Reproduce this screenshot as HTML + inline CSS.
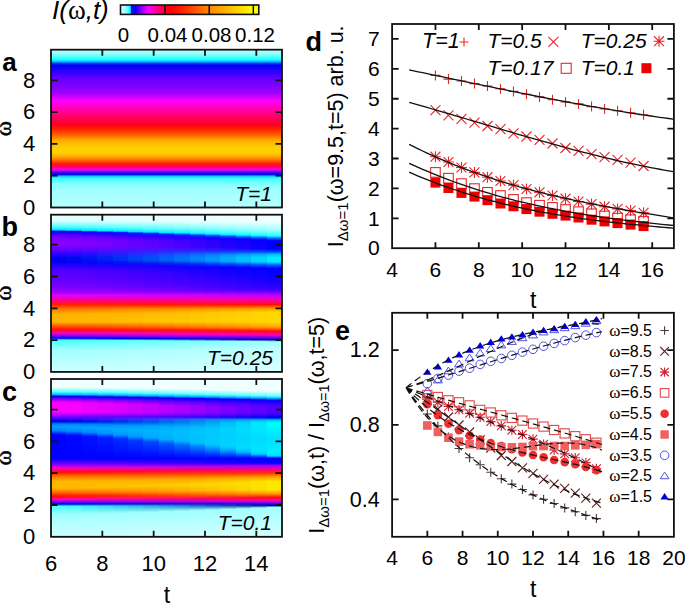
<!DOCTYPE html>
<html><head><meta charset="utf-8"><style>html,body{margin:0;padding:0;background:#fff;width:685px;height:603px;overflow:hidden}svg{display:block}</style></head>
<body><svg width="685" height="603" viewBox="0 0 685 603">
<defs><linearGradient id="g1" gradientUnits="userSpaceOnUse" x1="0" y1="49.00" x2="0" y2="208.20"><stop offset="0.0000" stop-color="#c8ffff"/><stop offset="0.0144" stop-color="#b0ffff"/><stop offset="0.0352" stop-color="#80ffff"/><stop offset="0.0647" stop-color="#20ffff"/><stop offset="0.0773" stop-color="#00d0ff"/><stop offset="0.0898" stop-color="#0040ff"/><stop offset="0.1018" stop-color="#0000f0"/><stop offset="0.1313" stop-color="#2000ff"/><stop offset="0.1815" stop-color="#6000ff"/><stop offset="0.2437" stop-color="#8800ff"/><stop offset="0.2764" stop-color="#a000ff"/><stop offset="0.3266" stop-color="#ff00ff"/><stop offset="0.3957" stop-color="#ff0090"/><stop offset="0.4774" stop-color="#ff0020"/><stop offset="0.5025" stop-color="#ff2000"/><stop offset="0.5402" stop-color="#ff6000"/><stop offset="0.5716" stop-color="#ffa800"/><stop offset="0.6187" stop-color="#ffd000"/><stop offset="0.6501" stop-color="#ffd000"/><stop offset="0.6759" stop-color="#ffa800"/><stop offset="0.6972" stop-color="#ff7000"/><stop offset="0.7180" stop-color="#ff2010"/><stop offset="0.7305" stop-color="#ff1020"/><stop offset="0.7425" stop-color="#ff0080"/><stop offset="0.7550" stop-color="#ff00e0"/><stop offset="0.7676" stop-color="#a000ff"/><stop offset="0.7783" stop-color="#2000f0"/><stop offset="0.7883" stop-color="#0010e0"/><stop offset="0.7990" stop-color="#20c0ff"/><stop offset="0.8134" stop-color="#30ffff"/><stop offset="0.8430" stop-color="#80ffff"/><stop offset="0.8844" stop-color="#a0ffff"/><stop offset="0.9987" stop-color="#b8ffff"/></linearGradient>
<linearGradient id="g2" gradientUnits="userSpaceOnUse" x1="0" y1="214.00" x2="0" y2="372.60"><stop offset="0.0000" stop-color="#e0ffff"/><stop offset="0.0416" stop-color="#e0ffff"/><stop offset="0.0839" stop-color="#40ffff"/><stop offset="0.1009" stop-color="#00e0ff"/><stop offset="0.1084" stop-color="#0000ff"/><stop offset="0.1261" stop-color="#4000ff"/><stop offset="0.1513" stop-color="#8000ff"/><stop offset="0.1892" stop-color="#9000ff"/><stop offset="0.2270" stop-color="#6000ff"/><stop offset="0.2585" stop-color="#2000ff"/><stop offset="0.2774" stop-color="#0000f0"/><stop offset="0.2869" stop-color="#0000f0"/><stop offset="0.3026" stop-color="#0000f0"/><stop offset="0.3216" stop-color="#2000ff"/><stop offset="0.3531" stop-color="#5000ff"/><stop offset="0.4433" stop-color="#7000ff"/><stop offset="0.4937" stop-color="#a000ff"/><stop offset="0.5126" stop-color="#e000ff"/><stop offset="0.5460" stop-color="#ff0080"/><stop offset="0.5712" stop-color="#ff2000"/><stop offset="0.5965" stop-color="#ff7000"/><stop offset="0.6299" stop-color="#ffb000"/><stop offset="0.6797" stop-color="#ffb800"/><stop offset="0.7081" stop-color="#ff5000"/><stop offset="0.7301" stop-color="#ff1010"/><stop offset="0.7503" stop-color="#ff00c0"/><stop offset="0.7680" stop-color="#8000ff"/><stop offset="0.7831" stop-color="#0000f0"/><stop offset="0.7945" stop-color="#40ffff"/><stop offset="0.8556" stop-color="#a0ffff"/><stop offset="0.9994" stop-color="#d0ffff"/></linearGradient>
<linearGradient id="g3" gradientUnits="userSpaceOnUse" x1="0" y1="214.00" x2="0" y2="372.60"><stop offset="0.0000" stop-color="#e1ffff"/><stop offset="0.0419" stop-color="#e1ffff"/><stop offset="0.0844" stop-color="#43ffff"/><stop offset="0.1021" stop-color="#01e1ff"/><stop offset="0.1099" stop-color="#0003ff"/><stop offset="0.1274" stop-color="#3e00ff"/><stop offset="0.1525" stop-color="#7c00ff"/><stop offset="0.1902" stop-color="#8b00ff"/><stop offset="0.2273" stop-color="#5d02ff"/><stop offset="0.2584" stop-color="#1f06ff"/><stop offset="0.2774" stop-color="#0008f0"/><stop offset="0.2874" stop-color="#0008f0"/><stop offset="0.3033" stop-color="#0003f0"/><stop offset="0.3223" stop-color="#1f00ff"/><stop offset="0.3543" stop-color="#4e00ff"/><stop offset="0.4433" stop-color="#6d00ff"/><stop offset="0.4932" stop-color="#9d00ff"/><stop offset="0.5126" stop-color="#df00ff"/><stop offset="0.5460" stop-color="#ff0081"/><stop offset="0.5712" stop-color="#ff1f00"/><stop offset="0.5965" stop-color="#ff7200"/><stop offset="0.6296" stop-color="#ffb100"/><stop offset="0.6797" stop-color="#ffb900"/><stop offset="0.7082" stop-color="#ff5300"/><stop offset="0.7304" stop-color="#ff100f"/><stop offset="0.7507" stop-color="#ff00c0"/><stop offset="0.7684" stop-color="#7f00ff"/><stop offset="0.7834" stop-color="#0000ed"/><stop offset="0.7948" stop-color="#43ffff"/><stop offset="0.8556" stop-color="#a1ffff"/><stop offset="0.9994" stop-color="#d0ffff"/></linearGradient>
<linearGradient id="g4" gradientUnits="userSpaceOnUse" x1="0" y1="214.00" x2="0" y2="372.60"><stop offset="0.0000" stop-color="#e1ffff"/><stop offset="0.0423" stop-color="#e1ffff"/><stop offset="0.0852" stop-color="#48ffff"/><stop offset="0.1038" stop-color="#03e2ff"/><stop offset="0.1121" stop-color="#0008ff"/><stop offset="0.1294" stop-color="#3b00ff"/><stop offset="0.1543" stop-color="#7600ff"/><stop offset="0.1917" stop-color="#8500ff"/><stop offset="0.2277" stop-color="#5805ff"/><stop offset="0.2583" stop-color="#1d0fff"/><stop offset="0.2774" stop-color="#0013f1"/><stop offset="0.2881" stop-color="#0012f1"/><stop offset="0.3042" stop-color="#0008f1"/><stop offset="0.3233" stop-color="#1d00ff"/><stop offset="0.3561" stop-color="#4a00ff"/><stop offset="0.4433" stop-color="#6a00ff"/><stop offset="0.4925" stop-color="#9800ff"/><stop offset="0.5126" stop-color="#dd00ff"/><stop offset="0.5460" stop-color="#ff0083"/><stop offset="0.5712" stop-color="#ff1f00"/><stop offset="0.5965" stop-color="#ff7400"/><stop offset="0.6292" stop-color="#ffb300"/><stop offset="0.6797" stop-color="#ffbb00"/><stop offset="0.7085" stop-color="#ff5600"/><stop offset="0.7308" stop-color="#ff100f"/><stop offset="0.7514" stop-color="#ff00c0"/><stop offset="0.7689" stop-color="#7d00ff"/><stop offset="0.7839" stop-color="#0000ea"/><stop offset="0.7953" stop-color="#48ffff"/><stop offset="0.8556" stop-color="#a3ffff"/><stop offset="0.9994" stop-color="#d1ffff"/></linearGradient>
<linearGradient id="g5" gradientUnits="userSpaceOnUse" x1="0" y1="214.00" x2="0" y2="372.60"><stop offset="0.0000" stop-color="#e2ffff"/><stop offset="0.0428" stop-color="#e2ffff"/><stop offset="0.0862" stop-color="#4dffff"/><stop offset="0.1059" stop-color="#04e4ff"/><stop offset="0.1147" stop-color="#000dff"/><stop offset="0.1316" stop-color="#3700ff"/><stop offset="0.1564" stop-color="#6f00ff"/><stop offset="0.1934" stop-color="#7d00ff"/><stop offset="0.2283" stop-color="#5309ff"/><stop offset="0.2581" stop-color="#1c1aff"/><stop offset="0.2774" stop-color="#0020f2"/><stop offset="0.2890" stop-color="#001ff2"/><stop offset="0.3052" stop-color="#000df2"/><stop offset="0.3245" stop-color="#1c00ff"/><stop offset="0.3582" stop-color="#4600ff"/><stop offset="0.4433" stop-color="#6500ff"/><stop offset="0.4917" stop-color="#9300ff"/><stop offset="0.5126" stop-color="#dc00ff"/><stop offset="0.5460" stop-color="#ff0084"/><stop offset="0.5712" stop-color="#ff1e00"/><stop offset="0.5965" stop-color="#ff7600"/><stop offset="0.6287" stop-color="#ffb500"/><stop offset="0.6797" stop-color="#ffbc00"/><stop offset="0.7088" stop-color="#ff5b00"/><stop offset="0.7312" stop-color="#ff100e"/><stop offset="0.7521" stop-color="#ff00c0"/><stop offset="0.7696" stop-color="#7c00ff"/><stop offset="0.7844" stop-color="#0000e5"/><stop offset="0.7959" stop-color="#4dffff"/><stop offset="0.8556" stop-color="#a4ffff"/><stop offset="0.9994" stop-color="#d1ffff"/></linearGradient>
<linearGradient id="g6" gradientUnits="userSpaceOnUse" x1="0" y1="214.00" x2="0" y2="372.60"><stop offset="0.0000" stop-color="#e3ffff"/><stop offset="0.0433" stop-color="#e3ffff"/><stop offset="0.0872" stop-color="#53ffff"/><stop offset="0.1082" stop-color="#06e6ff"/><stop offset="0.1175" stop-color="#0013ff"/><stop offset="0.1341" stop-color="#3300ff"/><stop offset="0.1587" stop-color="#6700ff"/><stop offset="0.1953" stop-color="#7400ff"/><stop offset="0.2288" stop-color="#4d0dff"/><stop offset="0.2579" stop-color="#1a26ff"/><stop offset="0.2774" stop-color="#002ff3"/><stop offset="0.2900" stop-color="#002ef3"/><stop offset="0.3064" stop-color="#0013f3"/><stop offset="0.3258" stop-color="#1a00ff"/><stop offset="0.3605" stop-color="#4200ff"/><stop offset="0.4433" stop-color="#6000ff"/><stop offset="0.4908" stop-color="#8d00ff"/><stop offset="0.5126" stop-color="#da00ff"/><stop offset="0.5460" stop-color="#ff0086"/><stop offset="0.5712" stop-color="#ff1d00"/><stop offset="0.5965" stop-color="#ff7900"/><stop offset="0.6282" stop-color="#ffb800"/><stop offset="0.6797" stop-color="#ffbe00"/><stop offset="0.7091" stop-color="#ff6000"/><stop offset="0.7317" stop-color="#ff100d"/><stop offset="0.7529" stop-color="#ff00c0"/><stop offset="0.7703" stop-color="#7a00ff"/><stop offset="0.7850" stop-color="#0000e0"/><stop offset="0.7966" stop-color="#53ffff"/><stop offset="0.8556" stop-color="#a6ffff"/><stop offset="0.9994" stop-color="#d2ffff"/></linearGradient>
<linearGradient id="g7" gradientUnits="userSpaceOnUse" x1="0" y1="214.00" x2="0" y2="372.60"><stop offset="0.0000" stop-color="#e4ffff"/><stop offset="0.0439" stop-color="#e4ffff"/><stop offset="0.0883" stop-color="#59ffff"/><stop offset="0.1106" stop-color="#08e8ff"/><stop offset="0.1205" stop-color="#0019ff"/><stop offset="0.1369" stop-color="#2f00ff"/><stop offset="0.1612" stop-color="#5e00ff"/><stop offset="0.1974" stop-color="#6a00ff"/><stop offset="0.2295" stop-color="#4711ff"/><stop offset="0.2577" stop-color="#1832ff"/><stop offset="0.2774" stop-color="#003ff4"/><stop offset="0.2910" stop-color="#003df4"/><stop offset="0.3076" stop-color="#0019f4"/><stop offset="0.3272" stop-color="#1800ff"/><stop offset="0.3630" stop-color="#3d00ff"/><stop offset="0.4433" stop-color="#5b00ff"/><stop offset="0.4899" stop-color="#8700ff"/><stop offset="0.5126" stop-color="#d800ff"/><stop offset="0.5460" stop-color="#ff0088"/><stop offset="0.5712" stop-color="#ff1c00"/><stop offset="0.5965" stop-color="#ff7d00"/><stop offset="0.6276" stop-color="#ffba00"/><stop offset="0.6797" stop-color="#ffc000"/><stop offset="0.7094" stop-color="#ff6500"/><stop offset="0.7323" stop-color="#ff100c"/><stop offset="0.7538" stop-color="#ff00c0"/><stop offset="0.7711" stop-color="#7800ff"/><stop offset="0.7856" stop-color="#0000db"/><stop offset="0.7973" stop-color="#59ffff"/><stop offset="0.8556" stop-color="#a8ffff"/><stop offset="0.9994" stop-color="#d2ffff"/></linearGradient>
<linearGradient id="g8" gradientUnits="userSpaceOnUse" x1="0" y1="214.00" x2="0" y2="372.60"><stop offset="0.0000" stop-color="#e5ffff"/><stop offset="0.0445" stop-color="#e5ffff"/><stop offset="0.0895" stop-color="#60ffff"/><stop offset="0.1132" stop-color="#0beaff"/><stop offset="0.1237" stop-color="#0020ff"/><stop offset="0.1397" stop-color="#2b00ff"/><stop offset="0.1639" stop-color="#5500ff"/><stop offset="0.1996" stop-color="#6000ff"/><stop offset="0.2301" stop-color="#4015ff"/><stop offset="0.2575" stop-color="#1540ff"/><stop offset="0.2774" stop-color="#0050f5"/><stop offset="0.2921" stop-color="#004df5"/><stop offset="0.3089" stop-color="#0020f5"/><stop offset="0.3287" stop-color="#1500ff"/><stop offset="0.3657" stop-color="#3800ff"/><stop offset="0.4433" stop-color="#5500ff"/><stop offset="0.4889" stop-color="#8000ff"/><stop offset="0.5126" stop-color="#d500ff"/><stop offset="0.5460" stop-color="#ff008b"/><stop offset="0.5712" stop-color="#ff1b00"/><stop offset="0.5965" stop-color="#ff8000"/><stop offset="0.6270" stop-color="#ffbd00"/><stop offset="0.6797" stop-color="#ffc300"/><stop offset="0.7097" stop-color="#ff6b00"/><stop offset="0.7329" stop-color="#ff100b"/><stop offset="0.7547" stop-color="#ff00c0"/><stop offset="0.7720" stop-color="#7500ff"/><stop offset="0.7862" stop-color="#0000d5"/><stop offset="0.7980" stop-color="#60ffff"/><stop offset="0.8556" stop-color="#abffff"/><stop offset="0.9994" stop-color="#d3ffff"/></linearGradient>
<linearGradient id="g9" gradientUnits="userSpaceOnUse" x1="0" y1="214.00" x2="0" y2="372.60"><stop offset="0.0000" stop-color="#e6ffff"/><stop offset="0.0452" stop-color="#e6ffff"/><stop offset="0.0908" stop-color="#67ffff"/><stop offset="0.1160" stop-color="#0dedff"/><stop offset="0.1271" stop-color="#0027ff"/><stop offset="0.1427" stop-color="#2600ff"/><stop offset="0.1667" stop-color="#4c00ff"/><stop offset="0.2020" stop-color="#5600ff"/><stop offset="0.2308" stop-color="#391aff"/><stop offset="0.2572" stop-color="#134eff"/><stop offset="0.2774" stop-color="#0061f6"/><stop offset="0.2933" stop-color="#005ef6"/><stop offset="0.3103" stop-color="#0027f6"/><stop offset="0.3303" stop-color="#1300ff"/><stop offset="0.3685" stop-color="#3300ff"/><stop offset="0.4433" stop-color="#5000ff"/><stop offset="0.4878" stop-color="#7900ff"/><stop offset="0.5126" stop-color="#d300ff"/><stop offset="0.5460" stop-color="#ff008d"/><stop offset="0.5712" stop-color="#ff1a00"/><stop offset="0.5965" stop-color="#ff8300"/><stop offset="0.6263" stop-color="#ffc000"/><stop offset="0.6797" stop-color="#ffc500"/><stop offset="0.7101" stop-color="#ff7000"/><stop offset="0.7335" stop-color="#ff100a"/><stop offset="0.7557" stop-color="#ff00c0"/><stop offset="0.7728" stop-color="#7300ff"/><stop offset="0.7869" stop-color="#0000d0"/><stop offset="0.7988" stop-color="#67ffff"/><stop offset="0.8556" stop-color="#adffff"/><stop offset="0.9994" stop-color="#d3ffff"/></linearGradient>
<linearGradient id="g10" gradientUnits="userSpaceOnUse" x1="0" y1="214.00" x2="0" y2="372.60"><stop offset="0.0000" stop-color="#e8ffff"/><stop offset="0.0459" stop-color="#e8ffff"/><stop offset="0.0921" stop-color="#6effff"/><stop offset="0.1189" stop-color="#0fefff"/><stop offset="0.1307" stop-color="#002eff"/><stop offset="0.1459" stop-color="#2100ff"/><stop offset="0.1696" stop-color="#4200ff"/><stop offset="0.2044" stop-color="#4a00ff"/><stop offset="0.2316" stop-color="#321fff"/><stop offset="0.2570" stop-color="#115dff"/><stop offset="0.2774" stop-color="#0074f7"/><stop offset="0.2945" stop-color="#0070f7"/><stop offset="0.3118" stop-color="#002ef7"/><stop offset="0.3319" stop-color="#1100ff"/><stop offset="0.3714" stop-color="#2d00ff"/><stop offset="0.4433" stop-color="#4900ff"/><stop offset="0.4867" stop-color="#7200ff"/><stop offset="0.5126" stop-color="#d100ff"/><stop offset="0.5460" stop-color="#ff008f"/><stop offset="0.5712" stop-color="#ff1800"/><stop offset="0.5965" stop-color="#ff8700"/><stop offset="0.6256" stop-color="#ffc300"/><stop offset="0.6797" stop-color="#ffc700"/><stop offset="0.7105" stop-color="#ff7700"/><stop offset="0.7341" stop-color="#ff1008"/><stop offset="0.7567" stop-color="#ff00c0"/><stop offset="0.7738" stop-color="#7100ff"/><stop offset="0.7877" stop-color="#0000c9"/><stop offset="0.7996" stop-color="#6effff"/><stop offset="0.8556" stop-color="#afffff"/><stop offset="0.9994" stop-color="#d4ffff"/></linearGradient>
<linearGradient id="g11" gradientUnits="userSpaceOnUse" x1="0" y1="214.00" x2="0" y2="372.60"><stop offset="0.0000" stop-color="#e9ffff"/><stop offset="0.0466" stop-color="#e9ffff"/><stop offset="0.0934" stop-color="#76ffff"/><stop offset="0.1218" stop-color="#12f1ff"/><stop offset="0.1344" stop-color="#0036ff"/><stop offset="0.1492" stop-color="#1c00ff"/><stop offset="0.1726" stop-color="#3800ff"/><stop offset="0.2069" stop-color="#3f00ff"/><stop offset="0.2323" stop-color="#2a24ff"/><stop offset="0.2567" stop-color="#0e6cff"/><stop offset="0.2774" stop-color="#0087f8"/><stop offset="0.2958" stop-color="#0083f8"/><stop offset="0.3133" stop-color="#0036f8"/><stop offset="0.3336" stop-color="#0e00ff"/><stop offset="0.3744" stop-color="#2700ff"/><stop offset="0.4433" stop-color="#4300ff"/><stop offset="0.4855" stop-color="#6a00ff"/><stop offset="0.5126" stop-color="#ce00ff"/><stop offset="0.5460" stop-color="#ff0092"/><stop offset="0.5712" stop-color="#ff1700"/><stop offset="0.5965" stop-color="#ff8b00"/><stop offset="0.6249" stop-color="#ffc700"/><stop offset="0.6797" stop-color="#ffca00"/><stop offset="0.7109" stop-color="#ff7d00"/><stop offset="0.7348" stop-color="#ff1007"/><stop offset="0.7578" stop-color="#ff00c0"/><stop offset="0.7747" stop-color="#6e00ff"/><stop offset="0.7884" stop-color="#0000c3"/><stop offset="0.8005" stop-color="#76ffff"/><stop offset="0.8556" stop-color="#b2ffff"/><stop offset="0.9994" stop-color="#d5ffff"/></linearGradient>
<linearGradient id="g12" gradientUnits="userSpaceOnUse" x1="0" y1="214.00" x2="0" y2="372.60"><stop offset="0.0000" stop-color="#eaffff"/><stop offset="0.0473" stop-color="#eaffff"/><stop offset="0.0949" stop-color="#7effff"/><stop offset="0.1249" stop-color="#15f4ff"/><stop offset="0.1382" stop-color="#003eff"/><stop offset="0.1526" stop-color="#1700ff"/><stop offset="0.1758" stop-color="#2d00ff"/><stop offset="0.2095" stop-color="#3300ff"/><stop offset="0.2331" stop-color="#2229ff"/><stop offset="0.2565" stop-color="#0b7cff"/><stop offset="0.2774" stop-color="#009bfa"/><stop offset="0.2971" stop-color="#0096fa"/><stop offset="0.3149" stop-color="#003efa"/><stop offset="0.3354" stop-color="#0b00ff"/><stop offset="0.3775" stop-color="#2200ff"/><stop offset="0.4433" stop-color="#3c00ff"/><stop offset="0.4843" stop-color="#6200ff"/><stop offset="0.5126" stop-color="#cb00ff"/><stop offset="0.5460" stop-color="#ff0095"/><stop offset="0.5712" stop-color="#ff1600"/><stop offset="0.5965" stop-color="#ff8f00"/><stop offset="0.6242" stop-color="#ffca00"/><stop offset="0.6797" stop-color="#ffcd00"/><stop offset="0.7113" stop-color="#ff8400"/><stop offset="0.7354" stop-color="#ff1006"/><stop offset="0.7589" stop-color="#ff00c0"/><stop offset="0.7757" stop-color="#6b00ff"/><stop offset="0.7892" stop-color="#0000bc"/><stop offset="0.8014" stop-color="#7effff"/><stop offset="0.8556" stop-color="#b5ffff"/><stop offset="0.9994" stop-color="#d5ffff"/></linearGradient>
<linearGradient id="g13" gradientUnits="userSpaceOnUse" x1="0" y1="214.00" x2="0" y2="372.60"><stop offset="0.0000" stop-color="#ecffff"/><stop offset="0.0481" stop-color="#ecffff"/><stop offset="0.0963" stop-color="#86ffff"/><stop offset="0.1281" stop-color="#17f7ff"/><stop offset="0.1421" stop-color="#0046ff"/><stop offset="0.1561" stop-color="#1100ff"/><stop offset="0.1790" stop-color="#2200ff"/><stop offset="0.2122" stop-color="#2700ff"/><stop offset="0.2339" stop-color="#1a2fff"/><stop offset="0.2562" stop-color="#098cff"/><stop offset="0.2774" stop-color="#00affb"/><stop offset="0.2984" stop-color="#00aafb"/><stop offset="0.3165" stop-color="#0046fb"/><stop offset="0.3372" stop-color="#0900ff"/><stop offset="0.3807" stop-color="#1b00ff"/><stop offset="0.4433" stop-color="#3600ff"/><stop offset="0.4831" stop-color="#5a00ff"/><stop offset="0.5126" stop-color="#c900ff"/><stop offset="0.5460" stop-color="#ff0097"/><stop offset="0.5712" stop-color="#ff1400"/><stop offset="0.5965" stop-color="#ff9300"/><stop offset="0.6234" stop-color="#ffcd00"/><stop offset="0.6797" stop-color="#ffcf00"/><stop offset="0.7118" stop-color="#ff8a00"/><stop offset="0.7361" stop-color="#ff1004"/><stop offset="0.7600" stop-color="#ff00c0"/><stop offset="0.7767" stop-color="#6900ff"/><stop offset="0.7900" stop-color="#0000b6"/><stop offset="0.8023" stop-color="#86ffff"/><stop offset="0.8556" stop-color="#b7ffff"/><stop offset="0.9994" stop-color="#d6ffff"/></linearGradient>
<linearGradient id="g14" gradientUnits="userSpaceOnUse" x1="0" y1="214.00" x2="0" y2="372.60"><stop offset="0.0000" stop-color="#edffff"/><stop offset="0.0488" stop-color="#edffff"/><stop offset="0.0978" stop-color="#8fffff"/><stop offset="0.1313" stop-color="#1af9ff"/><stop offset="0.1461" stop-color="#004fff"/><stop offset="0.1596" stop-color="#0c00ff"/><stop offset="0.1823" stop-color="#1700ff"/><stop offset="0.2150" stop-color="#1a00ff"/><stop offset="0.2347" stop-color="#1134ff"/><stop offset="0.2559" stop-color="#069dff"/><stop offset="0.2774" stop-color="#00c4fc"/><stop offset="0.2998" stop-color="#00befc"/><stop offset="0.3181" stop-color="#004ffc"/><stop offset="0.3391" stop-color="#0600ff"/><stop offset="0.3841" stop-color="#1500ff"/><stop offset="0.4433" stop-color="#2f00ff"/><stop offset="0.4818" stop-color="#5100ff"/><stop offset="0.5126" stop-color="#c600ff"/><stop offset="0.5460" stop-color="#ff009a"/><stop offset="0.5712" stop-color="#ff1300"/><stop offset="0.5965" stop-color="#ff9700"/><stop offset="0.6227" stop-color="#ffd100"/><stop offset="0.6797" stop-color="#ffd200"/><stop offset="0.7122" stop-color="#ff9100"/><stop offset="0.7368" stop-color="#ff1003"/><stop offset="0.7612" stop-color="#ff00c0"/><stop offset="0.7778" stop-color="#6600ff"/><stop offset="0.7908" stop-color="#0000af"/><stop offset="0.8032" stop-color="#8fffff"/><stop offset="0.8556" stop-color="#baffff"/><stop offset="0.9994" stop-color="#d7ffff"/></linearGradient>
<linearGradient id="g15" gradientUnits="userSpaceOnUse" x1="0" y1="214.00" x2="0" y2="372.60"><stop offset="0.0000" stop-color="#efffff"/><stop offset="0.0496" stop-color="#efffff"/><stop offset="0.0993" stop-color="#97ffff"/><stop offset="0.1347" stop-color="#1dfcff"/><stop offset="0.1502" stop-color="#0057ff"/><stop offset="0.1633" stop-color="#0600ff"/><stop offset="0.1857" stop-color="#0c00ff"/><stop offset="0.2178" stop-color="#0d00ff"/><stop offset="0.2356" stop-color="#093aff"/><stop offset="0.2556" stop-color="#03aeff"/><stop offset="0.2774" stop-color="#00dafe"/><stop offset="0.3012" stop-color="#00d3fe"/><stop offset="0.3198" stop-color="#0057fe"/><stop offset="0.3410" stop-color="#0300ff"/><stop offset="0.3874" stop-color="#0f00ff"/><stop offset="0.4433" stop-color="#2700ff"/><stop offset="0.4805" stop-color="#4900ff"/><stop offset="0.5126" stop-color="#c300ff"/><stop offset="0.5460" stop-color="#ff009d"/><stop offset="0.5712" stop-color="#ff1100"/><stop offset="0.5965" stop-color="#ff9c00"/><stop offset="0.6219" stop-color="#ffd400"/><stop offset="0.6797" stop-color="#ffd500"/><stop offset="0.7127" stop-color="#ff9900"/><stop offset="0.7376" stop-color="#ff1001"/><stop offset="0.7623" stop-color="#ff00c0"/><stop offset="0.7788" stop-color="#6300ff"/><stop offset="0.7917" stop-color="#0000a7"/><stop offset="0.8042" stop-color="#97ffff"/><stop offset="0.8556" stop-color="#bdffff"/><stop offset="0.9994" stop-color="#d7ffff"/></linearGradient>
<linearGradient id="g16" gradientUnits="userSpaceOnUse" x1="0" y1="214.00" x2="0" y2="372.60"><stop offset="0.0000" stop-color="#f0ffff"/><stop offset="0.0504" stop-color="#f0ffff"/><stop offset="0.1009" stop-color="#a0ffff"/><stop offset="0.1381" stop-color="#20ffff"/><stop offset="0.1545" stop-color="#0060ff"/><stop offset="0.1671" stop-color="#0000ff"/><stop offset="0.1892" stop-color="#0000ff"/><stop offset="0.2207" stop-color="#0000ff"/><stop offset="0.2364" stop-color="#0040ff"/><stop offset="0.2554" stop-color="#00c0ff"/><stop offset="0.2774" stop-color="#00f0ff"/><stop offset="0.3026" stop-color="#00e8ff"/><stop offset="0.3216" stop-color="#0060ff"/><stop offset="0.3430" stop-color="#0000ff"/><stop offset="0.3909" stop-color="#0800ff"/><stop offset="0.4433" stop-color="#2000ff"/><stop offset="0.4792" stop-color="#4000ff"/><stop offset="0.5126" stop-color="#c000ff"/><stop offset="0.5460" stop-color="#ff00a0"/><stop offset="0.5712" stop-color="#ff1000"/><stop offset="0.5965" stop-color="#ffa000"/><stop offset="0.6211" stop-color="#ffd800"/><stop offset="0.6797" stop-color="#ffd800"/><stop offset="0.7131" stop-color="#ffa000"/><stop offset="0.7383" stop-color="#ff1000"/><stop offset="0.7636" stop-color="#ff00c0"/><stop offset="0.7799" stop-color="#6000ff"/><stop offset="0.7926" stop-color="#0000a0"/><stop offset="0.8052" stop-color="#a0ffff"/><stop offset="0.8556" stop-color="#c0ffff"/><stop offset="0.9994" stop-color="#d8ffff"/></linearGradient>
<linearGradient id="g17" gradientUnits="userSpaceOnUse" x1="0" y1="378.30" x2="0" y2="537.50"><stop offset="0.0000" stop-color="#f0ffff"/><stop offset="0.0546" stop-color="#f0ffff"/><stop offset="0.0829" stop-color="#60ffff"/><stop offset="0.1018" stop-color="#00c0ff"/><stop offset="0.1131" stop-color="#0000f0"/><stop offset="0.1300" stop-color="#8000ff"/><stop offset="0.1520" stop-color="#ff00ff"/><stop offset="0.2085" stop-color="#ff00ff"/><stop offset="0.2274" stop-color="#c000ff"/><stop offset="0.2399" stop-color="#8000ff"/><stop offset="0.2525" stop-color="#4000ff"/><stop offset="0.2707" stop-color="#0000e0"/><stop offset="0.2877" stop-color="#0080ff"/><stop offset="0.3040" stop-color="#00a0ff"/><stop offset="0.3291" stop-color="#0080ff"/><stop offset="0.3543" stop-color="#0000ff"/><stop offset="0.5044" stop-color="#0000ff"/><stop offset="0.5151" stop-color="#2000ff"/><stop offset="0.5402" stop-color="#8000ff"/><stop offset="0.5653" stop-color="#ff00c0"/><stop offset="0.5898" stop-color="#ff1000"/><stop offset="0.6149" stop-color="#ff7000"/><stop offset="0.6482" stop-color="#ffb800"/><stop offset="0.6903" stop-color="#ffb800"/><stop offset="0.7148" stop-color="#ff7000"/><stop offset="0.7399" stop-color="#ff1000"/><stop offset="0.7607" stop-color="#ff00c0"/><stop offset="0.7776" stop-color="#6000ff"/><stop offset="0.7902" stop-color="#0000e0"/><stop offset="0.8028" stop-color="#40ffff"/><stop offset="0.8568" stop-color="#a0ffff"/><stop offset="1.0000" stop-color="#d0ffff"/></linearGradient>
<linearGradient id="g18" gradientUnits="userSpaceOnUse" x1="0" y1="378.30" x2="0" y2="537.50"><stop offset="0.0000" stop-color="#f0ffff"/><stop offset="0.0555" stop-color="#f0ffff"/><stop offset="0.0839" stop-color="#60ffff"/><stop offset="0.1026" stop-color="#00bfff"/><stop offset="0.1139" stop-color="#0000f0"/><stop offset="0.1313" stop-color="#7e00ff"/><stop offset="0.1534" stop-color="#f900ff"/><stop offset="0.2089" stop-color="#f900ff"/><stop offset="0.2276" stop-color="#bb00ff"/><stop offset="0.2402" stop-color="#7c00ff"/><stop offset="0.2528" stop-color="#3e06ff"/><stop offset="0.2710" stop-color="#0008e1"/><stop offset="0.2890" stop-color="#0084ff"/><stop offset="0.3067" stop-color="#00a2ff"/><stop offset="0.3335" stop-color="#0084ff"/><stop offset="0.3586" stop-color="#0007ff"/><stop offset="0.5043" stop-color="#0000ff"/><stop offset="0.5149" stop-color="#1f00ff"/><stop offset="0.5399" stop-color="#7c00ff"/><stop offset="0.5648" stop-color="#fc00c2"/><stop offset="0.5893" stop-color="#ff0f04"/><stop offset="0.6143" stop-color="#ff6e00"/><stop offset="0.6473" stop-color="#ffb700"/><stop offset="0.6890" stop-color="#ffba00"/><stop offset="0.7143" stop-color="#ff7400"/><stop offset="0.7394" stop-color="#ff1500"/><stop offset="0.7603" stop-color="#ff01ba"/><stop offset="0.7774" stop-color="#6500fd"/><stop offset="0.7901" stop-color="#0200e1"/><stop offset="0.8026" stop-color="#3ef7fb"/><stop offset="0.8553" stop-color="#a0ffff"/><stop offset="1.0000" stop-color="#d0ffff"/></linearGradient>
<linearGradient id="g19" gradientUnits="userSpaceOnUse" x1="0" y1="378.30" x2="0" y2="537.50"><stop offset="0.0000" stop-color="#f0ffff"/><stop offset="0.0567" stop-color="#f0ffff"/><stop offset="0.0853" stop-color="#60ffff"/><stop offset="0.1038" stop-color="#00bdff"/><stop offset="0.1150" stop-color="#0000f1"/><stop offset="0.1333" stop-color="#7c00ff"/><stop offset="0.1555" stop-color="#f100ff"/><stop offset="0.2095" stop-color="#f000ff"/><stop offset="0.2279" stop-color="#b300ff"/><stop offset="0.2405" stop-color="#7600fe"/><stop offset="0.2533" stop-color="#3b0fff"/><stop offset="0.2714" stop-color="#0014e2"/><stop offset="0.2910" stop-color="#0089ff"/><stop offset="0.3107" stop-color="#00a5ff"/><stop offset="0.3398" stop-color="#0089ff"/><stop offset="0.3649" stop-color="#0012ff"/><stop offset="0.5041" stop-color="#0000ff"/><stop offset="0.5147" stop-color="#1d00ff"/><stop offset="0.5396" stop-color="#7600ff"/><stop offset="0.5640" stop-color="#f700c5"/><stop offset="0.5885" stop-color="#ff0f0a"/><stop offset="0.6133" stop-color="#ff6b00"/><stop offset="0.6459" stop-color="#ffb600"/><stop offset="0.6870" stop-color="#ffbc00"/><stop offset="0.7135" stop-color="#ff7a00"/><stop offset="0.7386" stop-color="#ff1b00"/><stop offset="0.7597" stop-color="#ff01b1"/><stop offset="0.7770" stop-color="#6d00fa"/><stop offset="0.7899" stop-color="#0500e2"/><stop offset="0.8024" stop-color="#3bebf5"/><stop offset="0.8531" stop-color="#a0ffff"/><stop offset="1.0000" stop-color="#d1ffff"/></linearGradient>
<linearGradient id="g20" gradientUnits="userSpaceOnUse" x1="0" y1="378.30" x2="0" y2="537.50"><stop offset="0.0000" stop-color="#f0ffff"/><stop offset="0.0580" stop-color="#f0ffff"/><stop offset="0.0869" stop-color="#60ffff"/><stop offset="0.1052" stop-color="#00bcff"/><stop offset="0.1164" stop-color="#0000f2"/><stop offset="0.1355" stop-color="#7a00ff"/><stop offset="0.1579" stop-color="#e700ff"/><stop offset="0.2102" stop-color="#e600ff"/><stop offset="0.2282" stop-color="#aa00ff"/><stop offset="0.2408" stop-color="#6f00fd"/><stop offset="0.2539" stop-color="#371aff"/><stop offset="0.2719" stop-color="#0022e4"/><stop offset="0.2933" stop-color="#008fff"/><stop offset="0.3153" stop-color="#00a9ff"/><stop offset="0.3472" stop-color="#008fff"/><stop offset="0.3723" stop-color="#001eff"/><stop offset="0.5039" stop-color="#0000ff"/><stop offset="0.5144" stop-color="#1c00ff"/><stop offset="0.5391" stop-color="#6f00ff"/><stop offset="0.5630" stop-color="#f200c9"/><stop offset="0.5876" stop-color="#ff0e11"/><stop offset="0.6122" stop-color="#ff6700"/><stop offset="0.6443" stop-color="#ffb500"/><stop offset="0.6846" stop-color="#ffbe00"/><stop offset="0.7126" stop-color="#ff8000"/><stop offset="0.7377" stop-color="#ff2300"/><stop offset="0.7590" stop-color="#ff02a6"/><stop offset="0.7765" stop-color="#7500f6"/><stop offset="0.7896" stop-color="#0900e4"/><stop offset="0.8022" stop-color="#37ddee"/><stop offset="0.8506" stop-color="#a0ffff"/><stop offset="1.0000" stop-color="#d1ffff"/></linearGradient>
<linearGradient id="g21" gradientUnits="userSpaceOnUse" x1="0" y1="378.30" x2="0" y2="537.50"><stop offset="0.0000" stop-color="#f0ffff"/><stop offset="0.0596" stop-color="#f0ffff"/><stop offset="0.0887" stop-color="#60ffff"/><stop offset="0.1067" stop-color="#00baff"/><stop offset="0.1179" stop-color="#0000f3"/><stop offset="0.1380" stop-color="#7700ff"/><stop offset="0.1606" stop-color="#dd00ff"/><stop offset="0.2110" stop-color="#db00ff"/><stop offset="0.2286" stop-color="#a100ff"/><stop offset="0.2412" stop-color="#6700fc"/><stop offset="0.2545" stop-color="#3326ff"/><stop offset="0.2725" stop-color="#0032e6"/><stop offset="0.2958" stop-color="#0096ff"/><stop offset="0.3204" stop-color="#00adff"/><stop offset="0.3554" stop-color="#0096ff"/><stop offset="0.3805" stop-color="#002cff"/><stop offset="0.5037" stop-color="#0000ff"/><stop offset="0.5141" stop-color="#1a00ff"/><stop offset="0.5386" stop-color="#6700ff"/><stop offset="0.5620" stop-color="#ec00cc"/><stop offset="0.5866" stop-color="#ff0d19"/><stop offset="0.6109" stop-color="#ff6300"/><stop offset="0.6426" stop-color="#ffb300"/><stop offset="0.6821" stop-color="#ffc100"/><stop offset="0.7116" stop-color="#ff8800"/><stop offset="0.7367" stop-color="#ff2c00"/><stop offset="0.7582" stop-color="#ff039a"/><stop offset="0.7760" stop-color="#7f00f3"/><stop offset="0.7893" stop-color="#0d00e6"/><stop offset="0.8019" stop-color="#33cde6"/><stop offset="0.8478" stop-color="#a0ffff"/><stop offset="1.0000" stop-color="#d2ffff"/></linearGradient>
<linearGradient id="g22" gradientUnits="userSpaceOnUse" x1="0" y1="378.30" x2="0" y2="537.50"><stop offset="0.0000" stop-color="#f0ffff"/><stop offset="0.0612" stop-color="#f0ffff"/><stop offset="0.0907" stop-color="#60ffff"/><stop offset="0.1083" stop-color="#00b8ff"/><stop offset="0.1195" stop-color="#0000f4"/><stop offset="0.1407" stop-color="#7300ff"/><stop offset="0.1635" stop-color="#d100ff"/><stop offset="0.2118" stop-color="#cf00ff"/><stop offset="0.2290" stop-color="#9600ff"/><stop offset="0.2416" stop-color="#5e00fb"/><stop offset="0.2551" stop-color="#2f32ff"/><stop offset="0.2730" stop-color="#0043e8"/><stop offset="0.2986" stop-color="#009dff"/><stop offset="0.3259" stop-color="#00b1ff"/><stop offset="0.3642" stop-color="#009dff"/><stop offset="0.3894" stop-color="#003bff"/><stop offset="0.5034" stop-color="#0000ff"/><stop offset="0.5138" stop-color="#1800ff"/><stop offset="0.5381" stop-color="#5e00ff"/><stop offset="0.5609" stop-color="#e600d1"/><stop offset="0.5855" stop-color="#ff0c22"/><stop offset="0.6095" stop-color="#ff5f00"/><stop offset="0.6407" stop-color="#ffb200"/><stop offset="0.6793" stop-color="#ffc500"/><stop offset="0.7105" stop-color="#ff8f00"/><stop offset="0.7357" stop-color="#ff3600"/><stop offset="0.7574" stop-color="#ff048e"/><stop offset="0.7755" stop-color="#8a00ee"/><stop offset="0.7890" stop-color="#1100e8"/><stop offset="0.8016" stop-color="#2fbcde"/><stop offset="0.8448" stop-color="#a0ffff"/><stop offset="1.0000" stop-color="#d2ffff"/></linearGradient>
<linearGradient id="g23" gradientUnits="userSpaceOnUse" x1="0" y1="378.30" x2="0" y2="537.50"><stop offset="0.0000" stop-color="#f0ffff"/><stop offset="0.0630" stop-color="#f0ffff"/><stop offset="0.0927" stop-color="#60ffff"/><stop offset="0.1101" stop-color="#00b5ff"/><stop offset="0.1212" stop-color="#0000f5"/><stop offset="0.1436" stop-color="#7000ff"/><stop offset="0.1666" stop-color="#c500ff"/><stop offset="0.2127" stop-color="#c200ff"/><stop offset="0.2295" stop-color="#8b00ff"/><stop offset="0.2420" stop-color="#5500fa"/><stop offset="0.2559" stop-color="#2b40ff"/><stop offset="0.2737" stop-color="#0055ea"/><stop offset="0.3015" stop-color="#00a5ff"/><stop offset="0.3318" stop-color="#00b5ff"/><stop offset="0.3736" stop-color="#00a5ff"/><stop offset="0.3987" stop-color="#004aff"/><stop offset="0.5031" stop-color="#0000ff"/><stop offset="0.5134" stop-color="#1500ff"/><stop offset="0.5375" stop-color="#5500ff"/><stop offset="0.5597" stop-color="#df00d5"/><stop offset="0.5844" stop-color="#ff0b2b"/><stop offset="0.6081" stop-color="#ff5b00"/><stop offset="0.6386" stop-color="#ffb000"/><stop offset="0.6763" stop-color="#ffc800"/><stop offset="0.7094" stop-color="#ff9800"/><stop offset="0.7345" stop-color="#ff4000"/><stop offset="0.7565" stop-color="#ff0580"/><stop offset="0.7749" stop-color="#9500ea"/><stop offset="0.7887" stop-color="#1500ea"/><stop offset="0.8013" stop-color="#2baad5"/><stop offset="0.8415" stop-color="#a0ffff"/><stop offset="1.0000" stop-color="#d3ffff"/></linearGradient>
<linearGradient id="g24" gradientUnits="userSpaceOnUse" x1="0" y1="378.30" x2="0" y2="537.50"><stop offset="0.0000" stop-color="#f0ffff"/><stop offset="0.0649" stop-color="#f0ffff"/><stop offset="0.0949" stop-color="#60ffff"/><stop offset="0.1120" stop-color="#00b3ff"/><stop offset="0.1230" stop-color="#0000f6"/><stop offset="0.1466" stop-color="#6d00ff"/><stop offset="0.1699" stop-color="#b800ff"/><stop offset="0.2136" stop-color="#b500ff"/><stop offset="0.2299" stop-color="#7f00ff"/><stop offset="0.2425" stop-color="#4c00f9"/><stop offset="0.2566" stop-color="#264eff"/><stop offset="0.2743" stop-color="#0068ed"/><stop offset="0.3045" stop-color="#00adff"/><stop offset="0.3379" stop-color="#00baff"/><stop offset="0.3835" stop-color="#00adff"/><stop offset="0.4086" stop-color="#005bff"/><stop offset="0.5029" stop-color="#0000ff"/><stop offset="0.5130" stop-color="#1300ff"/><stop offset="0.5369" stop-color="#4c00ff"/><stop offset="0.5584" stop-color="#d800da"/><stop offset="0.5832" stop-color="#ff0a34"/><stop offset="0.6065" stop-color="#ff5600"/><stop offset="0.6365" stop-color="#ffae00"/><stop offset="0.6732" stop-color="#ffcb00"/><stop offset="0.7082" stop-color="#ffa100"/><stop offset="0.7333" stop-color="#ff4a00"/><stop offset="0.7556" stop-color="#ff0672"/><stop offset="0.7743" stop-color="#a100e5"/><stop offset="0.7884" stop-color="#1a00ed"/><stop offset="0.8010" stop-color="#2697cb"/><stop offset="0.8382" stop-color="#a0ffff"/><stop offset="1.0000" stop-color="#d3ffff"/></linearGradient>
<linearGradient id="g25" gradientUnits="userSpaceOnUse" x1="0" y1="378.30" x2="0" y2="537.50"><stop offset="0.0000" stop-color="#f0ffff"/><stop offset="0.0668" stop-color="#f0ffff"/><stop offset="0.0972" stop-color="#60ffff"/><stop offset="0.1139" stop-color="#00b1ff"/><stop offset="0.1249" stop-color="#0000f7"/><stop offset="0.1498" stop-color="#6900ff"/><stop offset="0.1733" stop-color="#aa00ff"/><stop offset="0.2146" stop-color="#a700ff"/><stop offset="0.2304" stop-color="#7300ff"/><stop offset="0.2430" stop-color="#4200f8"/><stop offset="0.2574" stop-color="#215dff"/><stop offset="0.2750" stop-color="#007bef"/><stop offset="0.3077" stop-color="#00b6ff"/><stop offset="0.3444" stop-color="#00bfff"/><stop offset="0.3938" stop-color="#00b6ff"/><stop offset="0.4189" stop-color="#006cff"/><stop offset="0.5026" stop-color="#0000ff"/><stop offset="0.5126" stop-color="#1100ff"/><stop offset="0.5363" stop-color="#4200ff"/><stop offset="0.5571" stop-color="#d100de"/><stop offset="0.5819" stop-color="#ff083e"/><stop offset="0.6049" stop-color="#ff5100"/><stop offset="0.6343" stop-color="#ffac00"/><stop offset="0.6700" stop-color="#ffcf00"/><stop offset="0.7069" stop-color="#ffaa00"/><stop offset="0.7321" stop-color="#ff5600"/><stop offset="0.7546" stop-color="#ff0863"/><stop offset="0.7737" stop-color="#ad00e1"/><stop offset="0.7881" stop-color="#1f00ef"/><stop offset="0.8006" stop-color="#2184c2"/><stop offset="0.8346" stop-color="#a0ffff"/><stop offset="1.0000" stop-color="#d4ffff"/></linearGradient>
<linearGradient id="g26" gradientUnits="userSpaceOnUse" x1="0" y1="378.30" x2="0" y2="537.50"><stop offset="0.0000" stop-color="#f0ffff"/><stop offset="0.0688" stop-color="#f0ffff"/><stop offset="0.0995" stop-color="#60ffff"/><stop offset="0.1159" stop-color="#00aeff"/><stop offset="0.1269" stop-color="#0000f8"/><stop offset="0.1530" stop-color="#6500ff"/><stop offset="0.1768" stop-color="#9c00ff"/><stop offset="0.2156" stop-color="#9800ff"/><stop offset="0.2309" stop-color="#6600ff"/><stop offset="0.2435" stop-color="#3800f7"/><stop offset="0.2582" stop-color="#1c6cff"/><stop offset="0.2757" stop-color="#0090f1"/><stop offset="0.3110" stop-color="#00bfff"/><stop offset="0.3511" stop-color="#00c4ff"/><stop offset="0.4045" stop-color="#00bfff"/><stop offset="0.4296" stop-color="#007eff"/><stop offset="0.5023" stop-color="#0000ff"/><stop offset="0.5122" stop-color="#0e00ff"/><stop offset="0.5356" stop-color="#3800ff"/><stop offset="0.5558" stop-color="#ca00e3"/><stop offset="0.5806" stop-color="#ff0748"/><stop offset="0.6033" stop-color="#ff4c00"/><stop offset="0.6320" stop-color="#ffaa00"/><stop offset="0.6666" stop-color="#ffd300"/><stop offset="0.7056" stop-color="#ffb400"/><stop offset="0.7308" stop-color="#ff6100"/><stop offset="0.7536" stop-color="#ff0954"/><stop offset="0.7730" stop-color="#ba00dc"/><stop offset="0.7877" stop-color="#2400f1"/><stop offset="0.8003" stop-color="#1c6fb7"/><stop offset="0.8310" stop-color="#a0ffff"/><stop offset="1.0000" stop-color="#d5ffff"/></linearGradient>
<linearGradient id="g27" gradientUnits="userSpaceOnUse" x1="0" y1="378.30" x2="0" y2="537.50"><stop offset="0.0000" stop-color="#f0ffff"/><stop offset="0.0709" stop-color="#f0ffff"/><stop offset="0.1020" stop-color="#60ffff"/><stop offset="0.1180" stop-color="#00abff"/><stop offset="0.1289" stop-color="#0000fa"/><stop offset="0.1564" stop-color="#6100ff"/><stop offset="0.1804" stop-color="#8e00ff"/><stop offset="0.2167" stop-color="#8900ff"/><stop offset="0.2314" stop-color="#5900ff"/><stop offset="0.2440" stop-color="#2d00f5"/><stop offset="0.2590" stop-color="#177cff"/><stop offset="0.2764" stop-color="#00a5f4"/><stop offset="0.3145" stop-color="#00c8ff"/><stop offset="0.3580" stop-color="#00c9ff"/><stop offset="0.4155" stop-color="#00c8ff"/><stop offset="0.4407" stop-color="#0091ff"/><stop offset="0.5020" stop-color="#0000ff"/><stop offset="0.5118" stop-color="#0b00ff"/><stop offset="0.5349" stop-color="#2d00ff"/><stop offset="0.5544" stop-color="#c200e9"/><stop offset="0.5793" stop-color="#ff0653"/><stop offset="0.6016" stop-color="#ff4700"/><stop offset="0.6296" stop-color="#ffa900"/><stop offset="0.6632" stop-color="#ffd700"/><stop offset="0.7043" stop-color="#ffbd00"/><stop offset="0.7294" stop-color="#ff6d00"/><stop offset="0.7526" stop-color="#ff0a44"/><stop offset="0.7724" stop-color="#c700d6"/><stop offset="0.7874" stop-color="#2900f4"/><stop offset="0.7999" stop-color="#175aad"/><stop offset="0.8272" stop-color="#a0ffff"/><stop offset="1.0000" stop-color="#d5ffff"/></linearGradient>
<linearGradient id="g28" gradientUnits="userSpaceOnUse" x1="0" y1="378.30" x2="0" y2="537.50"><stop offset="0.0000" stop-color="#f0ffff"/><stop offset="0.0730" stop-color="#f0ffff"/><stop offset="0.1045" stop-color="#60ffff"/><stop offset="0.1201" stop-color="#00a9ff"/><stop offset="0.1310" stop-color="#0000fb"/><stop offset="0.1599" stop-color="#5d00ff"/><stop offset="0.1841" stop-color="#7f00ff"/><stop offset="0.2177" stop-color="#7900ff"/><stop offset="0.2320" stop-color="#4b00ff"/><stop offset="0.2445" stop-color="#2200f4"/><stop offset="0.2599" stop-color="#118cff"/><stop offset="0.2772" stop-color="#00baf7"/><stop offset="0.3180" stop-color="#00d2ff"/><stop offset="0.3651" stop-color="#00cfff"/><stop offset="0.4269" stop-color="#00d2ff"/><stop offset="0.4521" stop-color="#00a4ff"/><stop offset="0.5016" stop-color="#0000ff"/><stop offset="0.5114" stop-color="#0900ff"/><stop offset="0.5342" stop-color="#2200ff"/><stop offset="0.5529" stop-color="#ba00ee"/><stop offset="0.5779" stop-color="#ff045e"/><stop offset="0.5998" stop-color="#ff4100"/><stop offset="0.6271" stop-color="#ffa600"/><stop offset="0.6596" stop-color="#ffdb00"/><stop offset="0.7029" stop-color="#ffc800"/><stop offset="0.7280" stop-color="#ff7900"/><stop offset="0.7515" stop-color="#ff0c34"/><stop offset="0.7717" stop-color="#d400d1"/><stop offset="0.7870" stop-color="#2f00f7"/><stop offset="0.7996" stop-color="#1145a2"/><stop offset="0.8233" stop-color="#a0ffff"/><stop offset="1.0000" stop-color="#d6ffff"/></linearGradient>
<linearGradient id="g29" gradientUnits="userSpaceOnUse" x1="0" y1="378.30" x2="0" y2="537.50"><stop offset="0.0000" stop-color="#f0ffff"/><stop offset="0.0752" stop-color="#f0ffff"/><stop offset="0.1071" stop-color="#60ffff"/><stop offset="0.1223" stop-color="#00a6ff"/><stop offset="0.1331" stop-color="#0000fc"/><stop offset="0.1634" stop-color="#5900ff"/><stop offset="0.1880" stop-color="#7000ff"/><stop offset="0.2188" stop-color="#6900ff"/><stop offset="0.2325" stop-color="#3d00ff"/><stop offset="0.2451" stop-color="#1700f3"/><stop offset="0.2607" stop-color="#0c9dff"/><stop offset="0.2779" stop-color="#00d1f9"/><stop offset="0.3216" stop-color="#00dcff"/><stop offset="0.3724" stop-color="#00d4ff"/><stop offset="0.4386" stop-color="#00dcff"/><stop offset="0.4638" stop-color="#00b7ff"/><stop offset="0.5013" stop-color="#0000ff"/><stop offset="0.5110" stop-color="#0600ff"/><stop offset="0.5335" stop-color="#1700ff"/><stop offset="0.5514" stop-color="#b100f4"/><stop offset="0.5765" stop-color="#ff0369"/><stop offset="0.5980" stop-color="#ff3c00"/><stop offset="0.6246" stop-color="#ffa400"/><stop offset="0.6559" stop-color="#ffdf00"/><stop offset="0.7015" stop-color="#ffd200"/><stop offset="0.7266" stop-color="#ff8600"/><stop offset="0.7504" stop-color="#ff0d23"/><stop offset="0.7710" stop-color="#e200cb"/><stop offset="0.7866" stop-color="#3400f9"/><stop offset="0.7992" stop-color="#0c2e97"/><stop offset="0.8193" stop-color="#a0ffff"/><stop offset="1.0000" stop-color="#d7ffff"/></linearGradient>
<linearGradient id="g30" gradientUnits="userSpaceOnUse" x1="0" y1="378.30" x2="0" y2="537.50"><stop offset="0.0000" stop-color="#f0ffff"/><stop offset="0.0775" stop-color="#f0ffff"/><stop offset="0.1097" stop-color="#60ffff"/><stop offset="0.1246" stop-color="#00a3ff"/><stop offset="0.1353" stop-color="#0000fe"/><stop offset="0.1671" stop-color="#5400ff"/><stop offset="0.1919" stop-color="#6000ff"/><stop offset="0.2200" stop-color="#5900ff"/><stop offset="0.2331" stop-color="#2f00ff"/><stop offset="0.2457" stop-color="#0c00f1"/><stop offset="0.2616" stop-color="#06aeff"/><stop offset="0.2787" stop-color="#00e8fc"/><stop offset="0.3253" stop-color="#00e6ff"/><stop offset="0.3799" stop-color="#00daff"/><stop offset="0.4507" stop-color="#00e6ff"/><stop offset="0.4758" stop-color="#00cbff"/><stop offset="0.5010" stop-color="#0000ff"/><stop offset="0.5105" stop-color="#0300ff"/><stop offset="0.5328" stop-color="#0c00ff"/><stop offset="0.5499" stop-color="#a900f9"/><stop offset="0.5750" stop-color="#ff0174"/><stop offset="0.5961" stop-color="#ff3600"/><stop offset="0.6220" stop-color="#ffa200"/><stop offset="0.6521" stop-color="#ffe400"/><stop offset="0.7000" stop-color="#ffdd00"/><stop offset="0.7251" stop-color="#ff9300"/><stop offset="0.7493" stop-color="#ff0f12"/><stop offset="0.7702" stop-color="#f000c6"/><stop offset="0.7862" stop-color="#3a00fc"/><stop offset="0.7988" stop-color="#06178c"/><stop offset="0.8151" stop-color="#a0ffff"/><stop offset="1.0000" stop-color="#d7ffff"/></linearGradient>
<linearGradient id="g31" gradientUnits="userSpaceOnUse" x1="0" y1="378.30" x2="0" y2="537.50"><stop offset="0.0000" stop-color="#f0ffff"/><stop offset="0.0798" stop-color="#f0ffff"/><stop offset="0.1124" stop-color="#60ffff"/><stop offset="0.1269" stop-color="#00a0ff"/><stop offset="0.1376" stop-color="#0000ff"/><stop offset="0.1709" stop-color="#5000ff"/><stop offset="0.1960" stop-color="#5000ff"/><stop offset="0.2211" stop-color="#4800ff"/><stop offset="0.2337" stop-color="#2000ff"/><stop offset="0.2462" stop-color="#0000f0"/><stop offset="0.2626" stop-color="#00c0ff"/><stop offset="0.2795" stop-color="#00ffff"/><stop offset="0.3291" stop-color="#00f0ff"/><stop offset="0.3876" stop-color="#00e0ff"/><stop offset="0.4629" stop-color="#00f0ff"/><stop offset="0.4881" stop-color="#00e0ff"/><stop offset="0.5006" stop-color="#0000ff"/><stop offset="0.5101" stop-color="#0000ff"/><stop offset="0.5320" stop-color="#0000ff"/><stop offset="0.5484" stop-color="#a000ff"/><stop offset="0.5735" stop-color="#ff0080"/><stop offset="0.5942" stop-color="#ff3000"/><stop offset="0.6193" stop-color="#ffa000"/><stop offset="0.6482" stop-color="#ffe800"/><stop offset="0.6985" stop-color="#ffe800"/><stop offset="0.7236" stop-color="#ffa000"/><stop offset="0.7481" stop-color="#ff1000"/><stop offset="0.7695" stop-color="#ff00c0"/><stop offset="0.7858" stop-color="#4000ff"/><stop offset="0.7984" stop-color="#000080"/><stop offset="0.8109" stop-color="#a0ffff"/><stop offset="1.0000" stop-color="#d8ffff"/></linearGradient>
<linearGradient id="cb" gradientUnits="userSpaceOnUse" x1="120.5" y1="0" x2="258.8" y2="0"><stop offset="0.0036" stop-color="#d8ffff"/><stop offset="0.0398" stop-color="#90ffff"/><stop offset="0.0709" stop-color="#00ffff"/><stop offset="0.0781" stop-color="#0000ff"/><stop offset="0.1121" stop-color="#1000ff"/><stop offset="0.1482" stop-color="#8000ff"/><stop offset="0.2025" stop-color="#ff00ff"/><stop offset="0.2711" stop-color="#ff0080"/><stop offset="0.3290" stop-color="#ff0020"/><stop offset="0.3724" stop-color="#ff0000"/><stop offset="0.5025" stop-color="#ff4000"/><stop offset="0.6399" stop-color="#ff8800"/><stop offset="0.7990" stop-color="#ffc000"/><stop offset="0.9581" stop-color="#ffff00"/><stop offset="1.0014" stop-color="#ffff00"/></linearGradient></defs>
<rect width="685" height="603" fill="#fff"/>
<rect x="51.00" y="49.00" width="231.00" height="159.20" fill="url(#g1)"/>
<rect x="51" y="214.00" width="15" height="158.60" fill="url(#g2)" shape-rendering="crispEdges"/>
<rect x="66" y="214.00" width="16" height="158.60" fill="url(#g3)" shape-rendering="crispEdges"/>
<rect x="82" y="214.00" width="15" height="158.60" fill="url(#g4)" shape-rendering="crispEdges"/>
<rect x="97" y="214.00" width="16" height="158.60" fill="url(#g5)" shape-rendering="crispEdges"/>
<rect x="113" y="214.00" width="15" height="158.60" fill="url(#g6)" shape-rendering="crispEdges"/>
<rect x="128" y="214.00" width="15" height="158.60" fill="url(#g7)" shape-rendering="crispEdges"/>
<rect x="143" y="214.00" width="16" height="158.60" fill="url(#g8)" shape-rendering="crispEdges"/>
<rect x="159" y="214.00" width="15" height="158.60" fill="url(#g9)" shape-rendering="crispEdges"/>
<rect x="174" y="214.00" width="16" height="158.60" fill="url(#g10)" shape-rendering="crispEdges"/>
<rect x="190" y="214.00" width="15" height="158.60" fill="url(#g11)" shape-rendering="crispEdges"/>
<rect x="205" y="214.00" width="15" height="158.60" fill="url(#g12)" shape-rendering="crispEdges"/>
<rect x="220" y="214.00" width="16" height="158.60" fill="url(#g13)" shape-rendering="crispEdges"/>
<rect x="236" y="214.00" width="15" height="158.60" fill="url(#g14)" shape-rendering="crispEdges"/>
<rect x="251" y="214.00" width="16" height="158.60" fill="url(#g15)" shape-rendering="crispEdges"/>
<rect x="267" y="214.00" width="15" height="158.60" fill="url(#g16)" shape-rendering="crispEdges"/>
<rect x="51" y="378.30" width="15" height="159.20" fill="url(#g17)" shape-rendering="crispEdges"/>
<rect x="66" y="378.30" width="16" height="159.20" fill="url(#g18)" shape-rendering="crispEdges"/>
<rect x="82" y="378.30" width="15" height="159.20" fill="url(#g19)" shape-rendering="crispEdges"/>
<rect x="97" y="378.30" width="16" height="159.20" fill="url(#g20)" shape-rendering="crispEdges"/>
<rect x="113" y="378.30" width="15" height="159.20" fill="url(#g21)" shape-rendering="crispEdges"/>
<rect x="128" y="378.30" width="15" height="159.20" fill="url(#g22)" shape-rendering="crispEdges"/>
<rect x="143" y="378.30" width="16" height="159.20" fill="url(#g23)" shape-rendering="crispEdges"/>
<rect x="159" y="378.30" width="15" height="159.20" fill="url(#g24)" shape-rendering="crispEdges"/>
<rect x="174" y="378.30" width="16" height="159.20" fill="url(#g25)" shape-rendering="crispEdges"/>
<rect x="190" y="378.30" width="15" height="159.20" fill="url(#g26)" shape-rendering="crispEdges"/>
<rect x="205" y="378.30" width="15" height="159.20" fill="url(#g27)" shape-rendering="crispEdges"/>
<rect x="220" y="378.30" width="16" height="159.20" fill="url(#g28)" shape-rendering="crispEdges"/>
<rect x="236" y="378.30" width="15" height="159.20" fill="url(#g29)" shape-rendering="crispEdges"/>
<rect x="251" y="378.30" width="16" height="159.20" fill="url(#g30)" shape-rendering="crispEdges"/>
<rect x="267" y="378.30" width="15" height="159.20" fill="url(#g31)" shape-rendering="crispEdges"/>
<rect x="51.00" y="49.70" width="231.00" height="157.80" fill="none" stroke="#111" stroke-width="1.80"/>
<path d="M102.33 49.70v6M102.33 207.50v-6M153.67 49.70v6M153.67 207.50v-6M205.00 49.70v6M205.00 207.50v-6M256.33 49.70v6M256.33 207.50v-6M51.00 175.70h6.5M282.00 175.70h-6.5M51.00 143.90h6.5M282.00 143.90h-6.5M51.00 112.10h6.5M282.00 112.10h-6.5M51.00 80.30h6.5M282.00 80.30h-6.5" stroke="#111" stroke-width="1.80" fill="none"/>
<text x="35.30" y="214.70" font-family='"Liberation Sans", sans-serif' font-size="22.00" text-anchor="end" fill="#000">0</text>
<text x="35.30" y="182.90" font-family='"Liberation Sans", sans-serif' font-size="22.00" text-anchor="end" fill="#000">2</text>
<text x="35.30" y="151.10" font-family='"Liberation Sans", sans-serif' font-size="22.00" text-anchor="end" fill="#000">4</text>
<text x="35.30" y="119.30" font-family='"Liberation Sans", sans-serif' font-size="22.00" text-anchor="end" fill="#000">6</text>
<text x="35.30" y="87.50" font-family='"Liberation Sans", sans-serif' font-size="22.00" text-anchor="end" fill="#000">8</text>
<text x="0" y="0" font-family='"Liberation Serif", serif' font-size="23" stroke="#000" stroke-width="0.45" transform="translate(11.3 128.60) rotate(-90)" text-anchor="middle">ω</text>
<rect x="51.00" y="214.70" width="231.00" height="157.20" fill="none" stroke="#111" stroke-width="1.80"/>
<path d="M102.33 214.70v6M102.33 371.90v-6M153.67 214.70v6M153.67 371.90v-6M205.00 214.70v6M205.00 371.90v-6M256.33 214.70v6M256.33 371.90v-6M51.00 340.10h6.5M282.00 340.10h-6.5M51.00 308.30h6.5M282.00 308.30h-6.5M51.00 276.50h6.5M282.00 276.50h-6.5M51.00 244.70h6.5M282.00 244.70h-6.5" stroke="#111" stroke-width="1.80" fill="none"/>
<text x="35.30" y="379.10" font-family='"Liberation Sans", sans-serif' font-size="22.00" text-anchor="end" fill="#000">0</text>
<text x="35.30" y="347.30" font-family='"Liberation Sans", sans-serif' font-size="22.00" text-anchor="end" fill="#000">2</text>
<text x="35.30" y="315.50" font-family='"Liberation Sans", sans-serif' font-size="22.00" text-anchor="end" fill="#000">4</text>
<text x="35.30" y="283.70" font-family='"Liberation Sans", sans-serif' font-size="22.00" text-anchor="end" fill="#000">6</text>
<text x="35.30" y="251.90" font-family='"Liberation Sans", sans-serif' font-size="22.00" text-anchor="end" fill="#000">8</text>
<text x="0" y="0" font-family='"Liberation Serif", serif' font-size="23" stroke="#000" stroke-width="0.45" transform="translate(11.3 293.30) rotate(-90)" text-anchor="middle">ω</text>
<rect x="51.00" y="379.00" width="231.00" height="157.80" fill="none" stroke="#111" stroke-width="1.80"/>
<path d="M102.33 379.00v6M102.33 536.80v-6M153.67 379.00v6M153.67 536.80v-6M205.00 379.00v6M205.00 536.80v-6M256.33 379.00v6M256.33 536.80v-6M51.00 505.00h6.5M282.00 505.00h-6.5M51.00 473.20h6.5M282.00 473.20h-6.5M51.00 441.40h6.5M282.00 441.40h-6.5M51.00 409.60h6.5M282.00 409.60h-6.5" stroke="#111" stroke-width="1.80" fill="none"/>
<text x="35.30" y="544.00" font-family='"Liberation Sans", sans-serif' font-size="22.00" text-anchor="end" fill="#000">0</text>
<text x="35.30" y="512.20" font-family='"Liberation Sans", sans-serif' font-size="22.00" text-anchor="end" fill="#000">2</text>
<text x="35.30" y="480.40" font-family='"Liberation Sans", sans-serif' font-size="22.00" text-anchor="end" fill="#000">4</text>
<text x="35.30" y="448.60" font-family='"Liberation Sans", sans-serif' font-size="22.00" text-anchor="end" fill="#000">6</text>
<text x="35.30" y="416.80" font-family='"Liberation Sans", sans-serif' font-size="22.00" text-anchor="end" fill="#000">8</text>
<text x="0" y="0" font-family='"Liberation Serif", serif' font-size="23" stroke="#000" stroke-width="0.45" transform="translate(11.3 457.90) rotate(-90)" text-anchor="middle">ω</text>
<text x="2.30" y="71.20" font-family='"Liberation Sans", sans-serif' font-size="26.00" font-weight="bold" fill="#000">a</text>
<text x="1.50" y="235.80" font-family='"Liberation Sans", sans-serif' font-size="27.00" font-weight="bold" fill="#000">b</text>
<text x="2.00" y="401.00" font-family='"Liberation Sans", sans-serif' font-size="27.00" font-weight="bold" fill="#000">c</text>
<text x="272.00" y="200.50" font-family='"Liberation Sans", sans-serif' font-size="21.00" text-anchor="end" font-style="italic" fill="#000">T=1</text>
<text x="273.00" y="365.00" font-family='"Liberation Sans", sans-serif' font-size="21.00" text-anchor="end" font-style="italic" fill="#000">T=0.25</text>
<text x="272.00" y="529.60" font-family='"Liberation Sans", sans-serif' font-size="21.00" text-anchor="end" font-style="italic" fill="#000">T=0.1</text>
<text x="51.00" y="571.40" font-family='"Liberation Sans", sans-serif' font-size="22.00" text-anchor="middle" fill="#000">6</text>
<text x="102.33" y="571.40" font-family='"Liberation Sans", sans-serif' font-size="22.00" text-anchor="middle" fill="#000">8</text>
<text x="153.67" y="571.40" font-family='"Liberation Sans", sans-serif' font-size="22.00" text-anchor="middle" fill="#000">10</text>
<text x="205.00" y="571.40" font-family='"Liberation Sans", sans-serif' font-size="22.00" text-anchor="middle" fill="#000">12</text>
<text x="256.33" y="571.40" font-family='"Liberation Sans", sans-serif' font-size="22.00" text-anchor="middle" fill="#000">14</text>
<text x="167.00" y="602.50" font-family='"Liberation Sans", sans-serif' font-size="23.00" text-anchor="middle" fill="#000">t</text>
<rect x="120.5" y="5.0" width="138.3" height="9.4" fill="url(#cb)" stroke="#111" stroke-width="1.6"/>
<path d="M165 5v9.4M209.2 5v9.4M253.3 5v9.4" stroke="#111" stroke-width="1.5"/>
<text x="123.40" y="42.00" font-family='"Liberation Sans", sans-serif' font-size="20.50" text-anchor="middle" fill="#000">0</text>
<text x="167.50" y="42.00" font-family='"Liberation Sans", sans-serif' font-size="20.50" text-anchor="middle" fill="#000">0.04</text>
<text x="211.50" y="42.00" font-family='"Liberation Sans", sans-serif' font-size="20.50" text-anchor="middle" fill="#000">0.08</text>
<text x="255.00" y="42.00" font-family='"Liberation Sans", sans-serif' font-size="20.50" text-anchor="middle" fill="#000">0.12</text>
<text x="52" y="19" font-family='"Liberation Sans", sans-serif' font-size="26" font-style="italic">I(<tspan font-family='"Liberation Serif", serif' font-style="normal" font-size="27">ω</tspan>,t)</text>
<rect x="392.10" y="24.00" width="281.80" height="224.20" fill="none" stroke="#111" stroke-width="1.80"/>
<path d="M435.45 24.00v6M435.45 248.20v-6M478.81 24.00v6M478.81 248.20v-6M522.16 24.00v6M522.16 248.20v-6M565.52 24.00v6M565.52 248.20v-6M608.87 24.00v6M608.87 248.20v-6M652.22 24.00v6M652.22 248.20v-6M392.10 218.31h6.5M673.90 218.31h-6.5M392.10 188.41h6.5M673.90 188.41h-6.5M392.10 158.52h6.5M673.90 158.52h-6.5M392.10 128.63h6.5M673.90 128.63h-6.5M392.10 98.73h6.5M673.90 98.73h-6.5M392.10 68.84h6.5M673.90 68.84h-6.5M392.10 38.95h6.5M673.90 38.95h-6.5" stroke="#111" stroke-width="1.80" fill="none"/>
<text x="379.80" y="255.40" font-family='"Liberation Sans", sans-serif' font-size="21.00" text-anchor="end" fill="#000">0</text>
<text x="379.80" y="225.51" font-family='"Liberation Sans", sans-serif' font-size="21.00" text-anchor="end" fill="#000">1</text>
<text x="379.80" y="195.61" font-family='"Liberation Sans", sans-serif' font-size="21.00" text-anchor="end" fill="#000">2</text>
<text x="379.80" y="165.72" font-family='"Liberation Sans", sans-serif' font-size="21.00" text-anchor="end" fill="#000">3</text>
<text x="379.80" y="135.83" font-family='"Liberation Sans", sans-serif' font-size="21.00" text-anchor="end" fill="#000">4</text>
<text x="379.80" y="105.93" font-family='"Liberation Sans", sans-serif' font-size="21.00" text-anchor="end" fill="#000">5</text>
<text x="379.80" y="76.04" font-family='"Liberation Sans", sans-serif' font-size="21.00" text-anchor="end" fill="#000">6</text>
<text x="379.80" y="46.15" font-family='"Liberation Sans", sans-serif' font-size="21.00" text-anchor="end" fill="#000">7</text>
<text x="392.10" y="276.60" font-family='"Liberation Sans", sans-serif' font-size="21.00" text-anchor="middle" fill="#000">4</text>
<text x="435.45" y="276.60" font-family='"Liberation Sans", sans-serif' font-size="21.00" text-anchor="middle" fill="#000">6</text>
<text x="478.81" y="276.60" font-family='"Liberation Sans", sans-serif' font-size="21.00" text-anchor="middle" fill="#000">8</text>
<text x="522.16" y="276.60" font-family='"Liberation Sans", sans-serif' font-size="21.00" text-anchor="middle" fill="#000">10</text>
<text x="565.52" y="276.60" font-family='"Liberation Sans", sans-serif' font-size="21.00" text-anchor="middle" fill="#000">12</text>
<text x="608.87" y="276.60" font-family='"Liberation Sans", sans-serif' font-size="21.00" text-anchor="middle" fill="#000">14</text>
<text x="652.22" y="276.60" font-family='"Liberation Sans", sans-serif' font-size="21.00" text-anchor="middle" fill="#000">16</text>
<text x="533.20" y="308.00" font-family='"Liberation Sans", sans-serif' font-size="23.00" text-anchor="middle" fill="#000">t</text>
<text x="305.50" y="50.80" font-family='"Liberation Sans", sans-serif' font-size="27.00" font-weight="bold" fill="#000">d</text>
<text font-family='"Liberation Sans", sans-serif' font-size="21.5" transform="translate(342.8 247.2) rotate(-90)">I<tspan font-size="15" dy="5">Δω=1</tspan><tspan dy="-5">(ω=9.5,t=5) arb. u.</tspan></text>
<path d="M430.45 75.40h10.00M435.45 70.40v10.00" stroke="#e8262a" stroke-width="1.10" fill="none"/>
<path d="M443.46 79.10h10.00M448.46 74.10v10.00" stroke="#e8262a" stroke-width="1.10" fill="none"/>
<path d="M456.47 81.00h10.00M461.47 76.00v10.00" stroke="#e8262a" stroke-width="1.10" fill="none"/>
<path d="M469.47 83.60h10.00M474.47 78.60v10.00" stroke="#e8262a" stroke-width="1.10" fill="none"/>
<path d="M482.48 86.00h10.00M487.48 81.00v10.00" stroke="#e8262a" stroke-width="1.10" fill="none"/>
<path d="M495.48 88.70h10.00M500.48 83.70v10.00" stroke="#e8262a" stroke-width="1.10" fill="none"/>
<path d="M508.49 91.40h10.00M513.49 86.40v10.00" stroke="#e8262a" stroke-width="1.10" fill="none"/>
<path d="M521.50 94.20h10.00M526.50 89.20v10.00" stroke="#e8262a" stroke-width="1.10" fill="none"/>
<path d="M534.50 96.90h10.00M539.50 91.90v10.00" stroke="#e8262a" stroke-width="1.10" fill="none"/>
<path d="M547.51 99.70h10.00M552.51 94.70v10.00" stroke="#e8262a" stroke-width="1.10" fill="none"/>
<path d="M560.52 101.90h10.00M565.52 96.90v10.00" stroke="#e8262a" stroke-width="1.10" fill="none"/>
<path d="M573.52 103.90h10.00M578.52 98.90v10.00" stroke="#e8262a" stroke-width="1.10" fill="none"/>
<path d="M586.53 106.60h10.00M591.53 101.60v10.00" stroke="#e8262a" stroke-width="1.10" fill="none"/>
<path d="M599.53 109.00h10.00M604.53 104.00v10.00" stroke="#e8262a" stroke-width="1.10" fill="none"/>
<path d="M612.54 110.70h10.00M617.54 105.70v10.00" stroke="#e8262a" stroke-width="1.10" fill="none"/>
<path d="M625.55 112.70h10.00M630.55 107.70v10.00" stroke="#e8262a" stroke-width="1.10" fill="none"/>
<path d="M638.55 114.80h10.00M643.55 109.80v10.00" stroke="#e8262a" stroke-width="1.10" fill="none"/>
<path d="M430.45 105.20l10.00 10.00M430.45 115.20l10.00 -10.00" stroke="#e8262a" stroke-width="1.10" fill="none"/>
<path d="M443.46 110.30l10.00 10.00M443.46 120.30l10.00 -10.00" stroke="#e8262a" stroke-width="1.10" fill="none"/>
<path d="M456.47 113.90l10.00 10.00M456.47 123.90l10.00 -10.00" stroke="#e8262a" stroke-width="1.10" fill="none"/>
<path d="M469.47 117.60l10.00 10.00M469.47 127.60l10.00 -10.00" stroke="#e8262a" stroke-width="1.10" fill="none"/>
<path d="M482.48 121.00l10.00 10.00M482.48 131.00l10.00 -10.00" stroke="#e8262a" stroke-width="1.10" fill="none"/>
<path d="M495.48 124.20l10.00 10.00M495.48 134.20l10.00 -10.00" stroke="#e8262a" stroke-width="1.10" fill="none"/>
<path d="M508.49 128.30l10.00 10.00M508.49 138.30l10.00 -10.00" stroke="#e8262a" stroke-width="1.10" fill="none"/>
<path d="M521.50 131.50l10.00 10.00M521.50 141.50l10.00 -10.00" stroke="#e8262a" stroke-width="1.10" fill="none"/>
<path d="M534.50 134.90l10.00 10.00M534.50 144.90l10.00 -10.00" stroke="#e8262a" stroke-width="1.10" fill="none"/>
<path d="M547.51 138.50l10.00 10.00M547.51 148.50l10.00 -10.00" stroke="#e8262a" stroke-width="1.10" fill="none"/>
<path d="M560.52 143.00l10.00 10.00M560.52 153.00l10.00 -10.00" stroke="#e8262a" stroke-width="1.10" fill="none"/>
<path d="M573.52 145.80l10.00 10.00M573.52 155.80l10.00 -10.00" stroke="#e8262a" stroke-width="1.10" fill="none"/>
<path d="M586.53 149.10l10.00 10.00M586.53 159.10l10.00 -10.00" stroke="#e8262a" stroke-width="1.10" fill="none"/>
<path d="M599.53 152.10l10.00 10.00M599.53 162.10l10.00 -10.00" stroke="#e8262a" stroke-width="1.10" fill="none"/>
<path d="M612.54 154.90l10.00 10.00M612.54 164.90l10.00 -10.00" stroke="#e8262a" stroke-width="1.10" fill="none"/>
<path d="M625.55 157.70l10.00 10.00M625.55 167.70l10.00 -10.00" stroke="#e8262a" stroke-width="1.10" fill="none"/>
<path d="M638.55 161.00l10.00 10.00M638.55 171.00l10.00 -10.00" stroke="#e8262a" stroke-width="1.10" fill="none"/>
<path d="M429.95 156.70h11.00M435.45 151.20v11.00M430.50 151.75l9.90 9.90M430.50 161.65l9.90 -9.90" stroke="#e8262a" stroke-width="1.10" fill="none"/>
<path d="M442.96 162.00h11.00M448.46 156.50v11.00M443.51 157.05l9.90 9.90M443.51 166.95l9.90 -9.90" stroke="#e8262a" stroke-width="1.10" fill="none"/>
<path d="M455.97 167.50h11.00M461.47 162.00v11.00M456.52 162.55l9.90 9.90M456.52 172.45l9.90 -9.90" stroke="#e8262a" stroke-width="1.10" fill="none"/>
<path d="M468.97 172.40h11.00M474.47 166.90v11.00M469.52 167.45l9.90 9.90M469.52 177.35l9.90 -9.90" stroke="#e8262a" stroke-width="1.10" fill="none"/>
<path d="M481.98 177.20h11.00M487.48 171.70v11.00M482.53 172.25l9.90 9.90M482.53 182.15l9.90 -9.90" stroke="#e8262a" stroke-width="1.10" fill="none"/>
<path d="M494.98 181.00h11.00M500.48 175.50v11.00M495.53 176.05l9.90 9.90M495.53 185.95l9.90 -9.90" stroke="#e8262a" stroke-width="1.10" fill="none"/>
<path d="M507.99 185.10h11.00M513.49 179.60v11.00M508.54 180.15l9.90 9.90M508.54 190.05l9.90 -9.90" stroke="#e8262a" stroke-width="1.10" fill="none"/>
<path d="M521.00 189.00h11.00M526.50 183.50v11.00M521.55 184.05l9.90 9.90M521.55 193.95l9.90 -9.90" stroke="#e8262a" stroke-width="1.10" fill="none"/>
<path d="M534.00 192.30h11.00M539.50 186.80v11.00M534.55 187.35l9.90 9.90M534.55 197.25l9.90 -9.90" stroke="#e8262a" stroke-width="1.10" fill="none"/>
<path d="M547.01 195.50h11.00M552.51 190.00v11.00M547.56 190.55l9.90 9.90M547.56 200.45l9.90 -9.90" stroke="#e8262a" stroke-width="1.10" fill="none"/>
<path d="M560.02 198.70h11.00M565.52 193.20v11.00M560.57 193.75l9.90 9.90M560.57 203.65l9.90 -9.90" stroke="#e8262a" stroke-width="1.10" fill="none"/>
<path d="M573.02 201.50h11.00M578.52 196.00v11.00M573.57 196.55l9.90 9.90M573.57 206.45l9.90 -9.90" stroke="#e8262a" stroke-width="1.10" fill="none"/>
<path d="M586.03 204.10h11.00M591.53 198.60v11.00M586.58 199.15l9.90 9.90M586.58 209.05l9.90 -9.90" stroke="#e8262a" stroke-width="1.10" fill="none"/>
<path d="M599.03 206.70h11.00M604.53 201.20v11.00M599.58 201.75l9.90 9.90M599.58 211.65l9.90 -9.90" stroke="#e8262a" stroke-width="1.10" fill="none"/>
<path d="M612.04 208.90h11.00M617.54 203.40v11.00M612.59 203.95l9.90 9.90M612.59 213.85l9.90 -9.90" stroke="#e8262a" stroke-width="1.10" fill="none"/>
<path d="M625.05 210.60h11.00M630.55 205.10v11.00M625.60 205.65l9.90 9.90M625.60 215.55l9.90 -9.90" stroke="#e8262a" stroke-width="1.10" fill="none"/>
<path d="M638.05 212.80h11.00M643.55 207.30v11.00M638.60 207.85l9.90 9.90M638.60 217.75l9.90 -9.90" stroke="#e8262a" stroke-width="1.10" fill="none"/>
<rect x="430.65" y="167.60" width="9.60" height="9.60" fill="none" stroke="#e8262a" stroke-width="1.10"/>
<rect x="443.66" y="173.40" width="9.60" height="9.60" fill="none" stroke="#e8262a" stroke-width="1.10"/>
<rect x="456.67" y="178.80" width="9.60" height="9.60" fill="none" stroke="#e8262a" stroke-width="1.10"/>
<rect x="469.67" y="183.80" width="9.60" height="9.60" fill="none" stroke="#e8262a" stroke-width="1.10"/>
<rect x="482.68" y="187.50" width="9.60" height="9.60" fill="none" stroke="#e8262a" stroke-width="1.10"/>
<rect x="495.68" y="190.70" width="9.60" height="9.60" fill="none" stroke="#e8262a" stroke-width="1.10"/>
<rect x="508.69" y="194.60" width="9.60" height="9.60" fill="none" stroke="#e8262a" stroke-width="1.10"/>
<rect x="521.70" y="197.80" width="9.60" height="9.60" fill="none" stroke="#e8262a" stroke-width="1.10"/>
<rect x="534.70" y="200.40" width="9.60" height="9.60" fill="none" stroke="#e8262a" stroke-width="1.10"/>
<rect x="547.71" y="202.60" width="9.60" height="9.60" fill="none" stroke="#e8262a" stroke-width="1.10"/>
<rect x="560.72" y="204.70" width="9.60" height="9.60" fill="none" stroke="#e8262a" stroke-width="1.10"/>
<rect x="573.72" y="206.90" width="9.60" height="9.60" fill="none" stroke="#e8262a" stroke-width="1.10"/>
<rect x="586.73" y="209.00" width="9.60" height="9.60" fill="none" stroke="#e8262a" stroke-width="1.10"/>
<rect x="599.73" y="211.20" width="9.60" height="9.60" fill="none" stroke="#e8262a" stroke-width="1.10"/>
<rect x="612.74" y="213.30" width="9.60" height="9.60" fill="none" stroke="#e8262a" stroke-width="1.10"/>
<rect x="625.75" y="214.90" width="9.60" height="9.60" fill="none" stroke="#e8262a" stroke-width="1.10"/>
<rect x="638.75" y="216.60" width="9.60" height="9.60" fill="none" stroke="#e8262a" stroke-width="1.10"/>
<rect x="430.45" y="177.60" width="10.00" height="10.00" fill="#ee0000"/>
<rect x="443.46" y="183.00" width="10.00" height="10.00" fill="#ee0000"/>
<rect x="456.47" y="187.90" width="10.00" height="10.00" fill="#ee0000"/>
<rect x="469.47" y="191.60" width="10.00" height="10.00" fill="#ee0000"/>
<rect x="482.48" y="195.20" width="10.00" height="10.00" fill="#ee0000"/>
<rect x="495.48" y="198.50" width="10.00" height="10.00" fill="#ee0000"/>
<rect x="508.49" y="201.30" width="10.00" height="10.00" fill="#ee0000"/>
<rect x="521.50" y="204.10" width="10.00" height="10.00" fill="#ee0000"/>
<rect x="534.50" y="206.70" width="10.00" height="10.00" fill="#ee0000"/>
<rect x="547.51" y="208.80" width="10.00" height="10.00" fill="#ee0000"/>
<rect x="560.52" y="210.60" width="10.00" height="10.00" fill="#ee0000"/>
<rect x="573.52" y="212.50" width="10.00" height="10.00" fill="#ee0000"/>
<rect x="586.53" y="214.70" width="10.00" height="10.00" fill="#ee0000"/>
<rect x="599.53" y="216.40" width="10.00" height="10.00" fill="#ee0000"/>
<rect x="612.54" y="218.10" width="10.00" height="10.00" fill="#ee0000"/>
<rect x="625.55" y="219.60" width="10.00" height="10.00" fill="#ee0000"/>
<rect x="638.55" y="221.10" width="10.00" height="10.00" fill="#ee0000"/>
<path d="M409.20 69.92 L413.67 70.85 L418.15 71.79 L422.62 72.73 L427.09 73.66 L431.56 74.60 L436.04 75.54 L440.51 76.48 L444.98 77.42 L449.46 78.35 L453.93 79.29 L458.40 80.23 L462.87 81.16 L467.35 82.09 L471.82 83.03 L476.29 83.96 L480.77 84.88 L485.24 85.81 L489.71 86.73 L494.18 87.65 L498.66 88.56 L503.13 89.48 L507.60 90.38 L512.08 91.29 L516.55 92.19 L521.02 93.08 L525.49 93.98 L529.97 94.86 L534.44 95.74 L538.91 96.62 L543.39 97.49 L547.86 98.35 L552.33 99.21 L556.81 100.06 L561.28 100.90 L565.75 101.74 L570.22 102.57 L574.70 103.39 L579.17 104.21 L583.64 105.01 L588.12 105.81 L592.59 106.60 L597.06 107.39 L601.53 108.16 L606.01 108.92 L610.48 109.68 L614.95 110.42 L619.43 111.15 L623.90 111.88 L628.37 112.59 L632.84 113.29 L637.32 113.99 L641.79 114.67 L646.26 115.34 L650.74 115.99 L655.21 116.64 L659.68 117.27 L664.15 117.89 L668.63 118.50 L673.10 119.10 M409.20 102.37 L413.67 103.63 L418.15 104.89 L422.62 106.17 L427.09 107.46 L431.56 108.75 L436.04 110.04 L440.51 111.35 L444.98 112.66 L449.46 113.97 L453.93 115.29 L458.40 116.61 L462.87 117.93 L467.35 119.25 L471.82 120.58 L476.29 121.91 L480.77 123.23 L485.24 124.56 L489.71 125.88 L494.18 127.21 L498.66 128.53 L503.13 129.85 L507.60 131.16 L512.08 132.47 L516.55 133.78 L521.02 135.08 L525.49 136.37 L529.97 137.66 L534.44 138.94 L538.91 140.21 L543.39 141.47 L547.86 142.73 L552.33 143.97 L556.81 145.20 L561.28 146.43 L565.75 147.64 L570.22 148.83 L574.70 150.02 L579.17 151.19 L583.64 152.35 L588.12 153.49 L592.59 154.62 L597.06 155.73 L601.53 156.82 L606.01 157.90 L610.48 158.96 L614.95 160.00 L619.43 161.02 L623.90 162.02 L628.37 163.00 L632.84 163.96 L637.32 164.90 L641.79 165.81 L646.26 166.71 L650.74 167.58 L655.21 168.42 L659.68 169.24 L664.15 170.03 L668.63 170.80 L673.10 171.54 M409.20 144.45 L413.67 146.68 L418.15 148.86 L422.62 151.00 L427.09 153.09 L431.56 155.13 L436.04 157.12 L440.51 159.07 L444.98 160.97 L449.46 162.83 L453.93 164.65 L458.40 166.42 L462.87 168.15 L467.35 169.85 L471.82 171.50 L476.29 173.11 L480.77 174.68 L485.24 176.22 L489.71 177.72 L494.18 179.19 L498.66 180.61 L503.13 182.01 L507.60 183.37 L512.08 184.70 L516.55 186.00 L521.02 187.27 L525.49 188.50 L529.97 189.71 L534.44 190.89 L538.91 192.04 L543.39 193.16 L547.86 194.26 L552.33 195.34 L556.81 196.39 L561.28 197.41 L565.75 198.41 L570.22 199.39 L574.70 200.35 L579.17 201.29 L583.64 202.21 L588.12 203.11 L592.59 204.00 L597.06 204.87 L601.53 205.72 L606.01 206.55 L610.48 207.37 L614.95 208.18 L619.43 208.97 L623.90 209.75 L628.37 210.52 L632.84 211.28 L637.32 212.03 L641.79 212.77 L646.26 213.51 L650.74 214.23 L655.21 214.95 L659.68 215.67 L664.15 216.38 L668.63 217.08 L673.10 217.79 M409.20 163.30 L413.67 165.35 L418.15 167.35 L422.62 169.31 L427.09 171.22 L431.56 173.08 L436.04 174.90 L440.51 176.68 L444.98 178.41 L449.46 180.10 L453.93 181.74 L458.40 183.35 L462.87 184.91 L467.35 186.44 L471.82 187.92 L476.29 189.37 L480.77 190.78 L485.24 192.15 L489.71 193.49 L494.18 194.79 L498.66 196.05 L503.13 197.28 L507.60 198.48 L512.08 199.64 L516.55 200.77 L521.02 201.87 L525.49 202.94 L529.97 203.98 L534.44 204.99 L538.91 205.97 L543.39 206.92 L547.86 207.85 L552.33 208.74 L556.81 209.62 L561.28 210.46 L565.75 211.29 L570.22 212.08 L574.70 212.86 L579.17 213.61 L583.64 214.34 L588.12 215.05 L592.59 215.74 L597.06 216.41 L601.53 217.06 L606.01 217.69 L610.48 218.30 L614.95 218.90 L619.43 219.48 L623.90 220.05 L628.37 220.60 L632.84 221.14 L637.32 221.66 L641.79 222.17 L646.26 222.67 L650.74 223.15 L655.21 223.63 L659.68 224.09 L664.15 224.55 L668.63 225.00 L673.10 225.44 M409.20 172.22 L413.67 174.16 L418.15 176.05 L422.62 177.89 L427.09 179.68 L431.56 181.43 L436.04 183.13 L440.51 184.79 L444.98 186.41 L449.46 187.98 L453.93 189.51 L458.40 190.99 L462.87 192.44 L467.35 193.85 L471.82 195.22 L476.29 196.54 L480.77 197.84 L485.24 199.09 L489.71 200.31 L494.18 201.49 L498.66 202.63 L503.13 203.75 L507.60 204.83 L512.08 205.87 L516.55 206.89 L521.02 207.87 L525.49 208.82 L529.97 209.75 L534.44 210.64 L538.91 211.51 L543.39 212.35 L547.86 213.16 L552.33 213.95 L556.81 214.71 L561.28 215.44 L565.75 216.16 L570.22 216.85 L574.70 217.51 L579.17 218.16 L583.64 218.79 L588.12 219.39 L592.59 219.98 L597.06 220.55 L601.53 221.10 L606.01 221.63 L610.48 222.15 L614.95 222.65 L619.43 223.13 L623.90 223.61 L628.37 224.07 L632.84 224.51 L637.32 224.95 L641.79 225.37 L646.26 225.79 L650.74 226.19 L655.21 226.59 L659.68 226.98 L664.15 227.36 L668.63 227.73 L673.10 228.10" stroke="#111" stroke-width="1.3" fill="none"/>
<text x="422.00" y="48.00" font-family='"Liberation Sans", sans-serif' font-size="21.50" font-style="italic" fill="#000">T=1</text>
<path d="M459.50 42.00h9.00M464.00 37.50v9.00" stroke="#e8262a" stroke-width="1.10" fill="none"/>
<text x="487.50" y="48.00" font-family='"Liberation Sans", sans-serif' font-size="21.00" font-style="italic" fill="#000">T=0.5</text>
<path d="M548.40 36.80l10.00 10.00M548.40 46.80l10.00 -10.00" stroke="#e8262a" stroke-width="1.10" fill="none"/>
<text x="580.70" y="48.00" font-family='"Liberation Sans", sans-serif' font-size="21.00" font-style="italic" fill="#000">T=0.25</text>
<path d="M653.50 41.20h11.00M659.00 35.70v11.00M654.05 36.25l9.90 9.90M654.05 46.15l9.90 -9.90" stroke="#e8262a" stroke-width="1.10" fill="none"/>
<text x="487.50" y="74.60" font-family='"Liberation Sans", sans-serif' font-size="21.00" font-style="italic" fill="#000">T=0.17</text>
<rect x="561.20" y="63.30" width="10.00" height="10.00" fill="none" stroke="#e8262a" stroke-width="1.10"/>
<text x="580.70" y="74.60" font-family='"Liberation Sans", sans-serif' font-size="21.00" font-style="italic" fill="#000">T=0.1</text>
<rect x="641.40" y="63.20" width="10.00" height="10.00" fill="#ee0000"/>
<rect x="392.10" y="312.80" width="281.80" height="224.00" fill="none" stroke="#111" stroke-width="1.80"/>
<path d="M427.33 312.80v6M427.33 536.80v-6M462.55 312.80v6M462.55 536.80v-6M497.77 312.80v6M497.77 536.80v-6M533.00 312.80v6M533.00 536.80v-6M568.23 312.80v6M568.23 536.80v-6M603.45 312.80v6M603.45 536.80v-6M638.67 312.80v6M638.67 536.80v-6M392.10 499.47h6.5M673.90 499.47h-6.5M392.10 424.80h6.5M673.90 424.80h-6.5M392.10 350.13h6.5M673.90 350.13h-6.5" stroke="#111" stroke-width="1.80" fill="none"/>
<text x="379.60" y="506.67" font-family='"Liberation Sans", sans-serif' font-size="21.50" text-anchor="end" fill="#000">0.4</text>
<text x="379.60" y="432.00" font-family='"Liberation Sans", sans-serif' font-size="21.50" text-anchor="end" fill="#000">0.8</text>
<text x="379.60" y="357.33" font-family='"Liberation Sans", sans-serif' font-size="21.50" text-anchor="end" fill="#000">1.2</text>
<text x="392.10" y="564.90" font-family='"Liberation Sans", sans-serif' font-size="21.00" text-anchor="middle" fill="#000">4</text>
<text x="427.33" y="564.90" font-family='"Liberation Sans", sans-serif' font-size="21.00" text-anchor="middle" fill="#000">6</text>
<text x="462.55" y="564.90" font-family='"Liberation Sans", sans-serif' font-size="21.00" text-anchor="middle" fill="#000">8</text>
<text x="497.77" y="564.90" font-family='"Liberation Sans", sans-serif' font-size="21.00" text-anchor="middle" fill="#000">10</text>
<text x="533.00" y="564.90" font-family='"Liberation Sans", sans-serif' font-size="21.00" text-anchor="middle" fill="#000">12</text>
<text x="568.23" y="564.90" font-family='"Liberation Sans", sans-serif' font-size="21.00" text-anchor="middle" fill="#000">14</text>
<text x="603.45" y="564.90" font-family='"Liberation Sans", sans-serif' font-size="21.00" text-anchor="middle" fill="#000">16</text>
<text x="638.67" y="564.90" font-family='"Liberation Sans", sans-serif' font-size="21.00" text-anchor="middle" fill="#000">18</text>
<text x="673.90" y="564.90" font-family='"Liberation Sans", sans-serif' font-size="21.00" text-anchor="middle" fill="#000">20</text>
<text x="533.20" y="596.80" font-family='"Liberation Sans", sans-serif' font-size="23.00" text-anchor="middle" fill="#000">t</text>
<text x="335.00" y="339.80" font-family='"Liberation Sans", sans-serif' font-size="27.00" font-weight="bold" fill="#000">e</text>
<text font-family='"Liberation Sans", sans-serif' font-size="21.5" transform="translate(324.0 533.8) rotate(-90)">I<tspan font-size="15" dy="5">Δω=1</tspan><tspan dy="-5">(ω,t) / I</tspan><tspan font-size="14.5" dy="5">Δω=1</tspan><tspan dy="-5">(ω,t=5)</tspan></text>
<path d="M422.83 414.00h9.00M427.33 409.50v9.00" stroke="#4a3a3a" stroke-width="1.10" fill="none"/>
<path d="M433.39 425.90h9.00M437.89 421.40v9.00" stroke="#4a3a3a" stroke-width="1.10" fill="none"/>
<path d="M443.96 437.00h9.00M448.46 432.50v9.00" stroke="#4a3a3a" stroke-width="1.10" fill="none"/>
<path d="M454.53 448.50h9.00M459.03 444.00v9.00" stroke="#4a3a3a" stroke-width="1.10" fill="none"/>
<path d="M465.10 457.80h9.00M469.60 453.30v9.00" stroke="#4a3a3a" stroke-width="1.10" fill="none"/>
<path d="M475.66 464.70h9.00M480.16 460.20v9.00" stroke="#4a3a3a" stroke-width="1.10" fill="none"/>
<path d="M486.23 472.30h9.00M490.73 467.80v9.00" stroke="#4a3a3a" stroke-width="1.10" fill="none"/>
<path d="M496.80 478.70h9.00M501.30 474.20v9.00" stroke="#4a3a3a" stroke-width="1.10" fill="none"/>
<path d="M507.37 484.10h9.00M511.87 479.60v9.00" stroke="#4a3a3a" stroke-width="1.10" fill="none"/>
<path d="M517.93 489.50h9.00M522.43 485.00v9.00" stroke="#4a3a3a" stroke-width="1.10" fill="none"/>
<path d="M528.50 494.90h9.00M533.00 490.40v9.00" stroke="#4a3a3a" stroke-width="1.10" fill="none"/>
<path d="M539.07 499.20h9.00M543.57 494.70v9.00" stroke="#4a3a3a" stroke-width="1.10" fill="none"/>
<path d="M549.63 503.50h9.00M554.13 499.00v9.00" stroke="#4a3a3a" stroke-width="1.10" fill="none"/>
<path d="M560.20 507.90h9.00M564.70 503.40v9.00" stroke="#4a3a3a" stroke-width="1.10" fill="none"/>
<path d="M570.77 511.70h9.00M575.27 507.20v9.00" stroke="#4a3a3a" stroke-width="1.10" fill="none"/>
<path d="M581.34 515.40h9.00M585.84 510.90v9.00" stroke="#4a3a3a" stroke-width="1.10" fill="none"/>
<path d="M591.90 518.60h9.00M596.40 514.10v9.00" stroke="#4a3a3a" stroke-width="1.10" fill="none"/>
<path d="M422.83 395.50l9.00 9.00M422.83 404.50l9.00 -9.00" stroke="#621e1e" stroke-width="1.10" fill="none"/>
<path d="M433.39 404.50l9.00 9.00M433.39 413.50l9.00 -9.00" stroke="#621e1e" stroke-width="1.10" fill="none"/>
<path d="M443.96 412.50l9.00 9.00M443.96 421.50l9.00 -9.00" stroke="#621e1e" stroke-width="1.10" fill="none"/>
<path d="M454.53 420.50l9.00 9.00M454.53 429.50l9.00 -9.00" stroke="#621e1e" stroke-width="1.10" fill="none"/>
<path d="M465.10 427.50l9.00 9.00M465.10 436.50l9.00 -9.00" stroke="#621e1e" stroke-width="1.10" fill="none"/>
<path d="M475.66 435.50l9.00 9.00M475.66 444.50l9.00 -9.00" stroke="#621e1e" stroke-width="1.10" fill="none"/>
<path d="M486.23 443.50l9.00 9.00M486.23 452.50l9.00 -9.00" stroke="#621e1e" stroke-width="1.10" fill="none"/>
<path d="M496.80 451.00l9.00 9.00M496.80 460.00l9.00 -9.00" stroke="#621e1e" stroke-width="1.10" fill="none"/>
<path d="M507.37 457.00l9.00 9.00M507.37 466.00l9.00 -9.00" stroke="#621e1e" stroke-width="1.10" fill="none"/>
<path d="M517.93 463.40l9.00 9.00M517.93 472.40l9.00 -9.00" stroke="#621e1e" stroke-width="1.10" fill="none"/>
<path d="M528.50 468.80l9.00 9.00M528.50 477.80l9.00 -9.00" stroke="#621e1e" stroke-width="1.10" fill="none"/>
<path d="M539.07 474.90l9.00 9.00M539.07 483.90l9.00 -9.00" stroke="#621e1e" stroke-width="1.10" fill="none"/>
<path d="M549.63 479.60l9.00 9.00M549.63 488.60l9.00 -9.00" stroke="#621e1e" stroke-width="1.10" fill="none"/>
<path d="M560.20 483.90l9.00 9.00M560.20 492.90l9.00 -9.00" stroke="#621e1e" stroke-width="1.10" fill="none"/>
<path d="M570.77 488.70l9.00 9.00M570.77 497.70l9.00 -9.00" stroke="#621e1e" stroke-width="1.10" fill="none"/>
<path d="M581.34 493.60l9.00 9.00M581.34 502.60l9.00 -9.00" stroke="#621e1e" stroke-width="1.10" fill="none"/>
<path d="M591.90 498.60l9.00 9.00M591.90 507.60l9.00 -9.00" stroke="#621e1e" stroke-width="1.10" fill="none"/>
<path d="M422.53 398.00h9.60M427.33 393.20v9.60M423.01 393.68l8.64 8.64M423.01 402.32l8.64 -8.64" stroke="#c82030" stroke-width="1.10" fill="none"/>
<path d="M433.09 402.20h9.60M437.89 397.40v9.60M433.57 397.88l8.64 8.64M433.57 406.52l8.64 -8.64" stroke="#c82030" stroke-width="1.10" fill="none"/>
<path d="M443.66 406.50h9.60M448.46 401.70v9.60M444.14 402.18l8.64 8.64M444.14 410.82l8.64 -8.64" stroke="#c82030" stroke-width="1.10" fill="none"/>
<path d="M454.23 409.70h9.60M459.03 404.90v9.60M454.71 405.38l8.64 8.64M454.71 414.02l8.64 -8.64" stroke="#c82030" stroke-width="1.10" fill="none"/>
<path d="M464.80 413.40h9.60M469.60 408.60v9.60M465.28 409.08l8.64 8.64M465.28 417.72l8.64 -8.64" stroke="#c82030" stroke-width="1.10" fill="none"/>
<path d="M475.36 417.30h9.60M480.16 412.50v9.60M475.84 412.98l8.64 8.64M475.84 421.62l8.64 -8.64" stroke="#c82030" stroke-width="1.10" fill="none"/>
<path d="M485.93 421.60h9.60M490.73 416.80v9.60M486.41 417.28l8.64 8.64M486.41 425.92l8.64 -8.64" stroke="#c82030" stroke-width="1.10" fill="none"/>
<path d="M496.50 425.90h9.60M501.30 421.10v9.60M496.98 421.58l8.64 8.64M496.98 430.22l8.64 -8.64" stroke="#c82030" stroke-width="1.10" fill="none"/>
<path d="M507.06 430.20h9.60M511.87 425.40v9.60M507.55 425.88l8.64 8.64M507.55 434.52l8.64 -8.64" stroke="#c82030" stroke-width="1.10" fill="none"/>
<path d="M517.63 434.50h9.60M522.43 429.70v9.60M518.11 430.18l8.64 8.64M518.11 438.82l8.64 -8.64" stroke="#c82030" stroke-width="1.10" fill="none"/>
<path d="M528.20 439.10h9.60M533.00 434.30v9.60M528.68 434.78l8.64 8.64M528.68 443.42l8.64 -8.64" stroke="#c82030" stroke-width="1.10" fill="none"/>
<path d="M538.77 444.20h9.60M543.57 439.40v9.60M539.25 439.88l8.64 8.64M539.25 448.52l8.64 -8.64" stroke="#c82030" stroke-width="1.10" fill="none"/>
<path d="M549.34 450.00h9.60M554.13 445.20v9.60M549.81 445.68l8.64 8.64M549.81 454.32l8.64 -8.64" stroke="#c82030" stroke-width="1.10" fill="none"/>
<path d="M559.90 453.90h9.60M564.70 449.10v9.60M560.38 449.58l8.64 8.64M560.38 458.22l8.64 -8.64" stroke="#c82030" stroke-width="1.10" fill="none"/>
<path d="M570.47 457.80h9.60M575.27 453.00v9.60M570.95 453.48l8.64 8.64M570.95 462.12l8.64 -8.64" stroke="#c82030" stroke-width="1.10" fill="none"/>
<path d="M581.04 462.60h9.60M585.84 457.80v9.60M581.52 458.28l8.64 8.64M581.52 466.92l8.64 -8.64" stroke="#c82030" stroke-width="1.10" fill="none"/>
<path d="M591.61 468.60h9.60M596.40 463.80v9.60M592.08 464.28l8.64 8.64M592.08 472.92l8.64 -8.64" stroke="#c82030" stroke-width="1.10" fill="none"/>
<rect x="422.73" y="390.40" width="9.20" height="9.20" fill="none" stroke="#e04848" stroke-width="1.10"/>
<rect x="433.29" y="392.40" width="9.20" height="9.20" fill="none" stroke="#e04848" stroke-width="1.10"/>
<rect x="443.86" y="395.70" width="9.20" height="9.20" fill="none" stroke="#e04848" stroke-width="1.10"/>
<rect x="454.43" y="397.70" width="9.20" height="9.20" fill="none" stroke="#e04848" stroke-width="1.10"/>
<rect x="465.00" y="400.80" width="9.20" height="9.20" fill="none" stroke="#e04848" stroke-width="1.10"/>
<rect x="475.56" y="405.30" width="9.20" height="9.20" fill="none" stroke="#e04848" stroke-width="1.10"/>
<rect x="486.13" y="407.90" width="9.20" height="9.20" fill="none" stroke="#e04848" stroke-width="1.10"/>
<rect x="496.70" y="410.70" width="9.20" height="9.20" fill="none" stroke="#e04848" stroke-width="1.10"/>
<rect x="507.26" y="413.30" width="9.20" height="9.20" fill="none" stroke="#e04848" stroke-width="1.10"/>
<rect x="517.83" y="416.00" width="9.20" height="9.20" fill="none" stroke="#e04848" stroke-width="1.10"/>
<rect x="528.40" y="418.90" width="9.20" height="9.20" fill="none" stroke="#e04848" stroke-width="1.10"/>
<rect x="538.97" y="422.00" width="9.20" height="9.20" fill="none" stroke="#e04848" stroke-width="1.10"/>
<rect x="549.53" y="425.40" width="9.20" height="9.20" fill="none" stroke="#e04848" stroke-width="1.10"/>
<rect x="560.10" y="428.80" width="9.20" height="9.20" fill="none" stroke="#e04848" stroke-width="1.10"/>
<rect x="570.67" y="431.60" width="9.20" height="9.20" fill="none" stroke="#e04848" stroke-width="1.10"/>
<rect x="581.24" y="434.70" width="9.20" height="9.20" fill="none" stroke="#e04848" stroke-width="1.10"/>
<rect x="591.80" y="438.10" width="9.20" height="9.20" fill="none" stroke="#e04848" stroke-width="1.10"/>
<circle cx="427.33" cy="404.30" r="4.30" fill="#f03030"/>
<circle cx="437.89" cy="415.10" r="4.30" fill="#f03030"/>
<circle cx="448.46" cy="423.70" r="4.30" fill="#f03030"/>
<circle cx="459.03" cy="430.20" r="4.30" fill="#f03030"/>
<circle cx="469.60" cy="435.60" r="4.30" fill="#f03030"/>
<circle cx="480.16" cy="439.50" r="4.30" fill="#f03030"/>
<circle cx="490.73" cy="443.10" r="4.30" fill="#f03030"/>
<circle cx="501.30" cy="446.00" r="4.30" fill="#f03030"/>
<circle cx="511.87" cy="449.20" r="4.30" fill="#f03030"/>
<circle cx="522.43" cy="452.40" r="4.30" fill="#f03030"/>
<circle cx="533.00" cy="455.00" r="4.30" fill="#f03030"/>
<circle cx="543.57" cy="457.20" r="4.30" fill="#f03030"/>
<circle cx="554.13" cy="460.00" r="4.30" fill="#f03030"/>
<circle cx="564.70" cy="462.10" r="4.30" fill="#f03030"/>
<circle cx="575.27" cy="464.30" r="4.30" fill="#f03030"/>
<circle cx="585.84" cy="466.90" r="4.30" fill="#f03030"/>
<circle cx="596.40" cy="470.10" r="4.30" fill="#f03030"/>
<rect x="423.03" y="421.20" width="8.60" height="8.60" fill="#f06060"/>
<rect x="433.59" y="427.60" width="8.60" height="8.60" fill="#f06060"/>
<rect x="444.16" y="433.40" width="8.60" height="8.60" fill="#f06060"/>
<rect x="454.73" y="437.30" width="8.60" height="8.60" fill="#f06060"/>
<rect x="465.30" y="439.90" width="8.60" height="8.60" fill="#f06060"/>
<rect x="475.86" y="441.00" width="8.60" height="8.60" fill="#f06060"/>
<rect x="486.43" y="442.10" width="8.60" height="8.60" fill="#f06060"/>
<rect x="497.00" y="442.70" width="8.60" height="8.60" fill="#f06060"/>
<rect x="507.56" y="443.00" width="8.60" height="8.60" fill="#f06060"/>
<rect x="518.13" y="442.70" width="8.60" height="8.60" fill="#f06060"/>
<rect x="528.70" y="441.90" width="8.60" height="8.60" fill="#f06060"/>
<rect x="539.27" y="441.70" width="8.60" height="8.60" fill="#f06060"/>
<rect x="549.84" y="441.70" width="8.60" height="8.60" fill="#f06060"/>
<rect x="560.40" y="441.70" width="8.60" height="8.60" fill="#f06060"/>
<rect x="570.97" y="441.00" width="8.60" height="8.60" fill="#f06060"/>
<rect x="581.54" y="440.60" width="8.60" height="8.60" fill="#f06060"/>
<rect x="592.11" y="439.90" width="8.60" height="8.60" fill="#f06060"/>
<circle cx="427.33" cy="383.70" r="4.30" fill="none" stroke="#5050e0" stroke-width="1.00"/>
<circle cx="437.89" cy="378.40" r="4.30" fill="none" stroke="#5050e0" stroke-width="1.00"/>
<circle cx="448.46" cy="375.10" r="4.30" fill="none" stroke="#5050e0" stroke-width="1.00"/>
<circle cx="459.03" cy="371.10" r="4.30" fill="none" stroke="#5050e0" stroke-width="1.00"/>
<circle cx="469.60" cy="368.20" r="4.30" fill="none" stroke="#5050e0" stroke-width="1.00"/>
<circle cx="480.16" cy="364.40" r="4.30" fill="none" stroke="#5050e0" stroke-width="1.00"/>
<circle cx="490.73" cy="361.30" r="4.30" fill="none" stroke="#5050e0" stroke-width="1.00"/>
<circle cx="501.30" cy="358.50" r="4.30" fill="none" stroke="#5050e0" stroke-width="1.00"/>
<circle cx="511.87" cy="355.30" r="4.30" fill="none" stroke="#5050e0" stroke-width="1.00"/>
<circle cx="522.43" cy="352.10" r="4.30" fill="none" stroke="#5050e0" stroke-width="1.00"/>
<circle cx="533.00" cy="349.30" r="4.30" fill="none" stroke="#5050e0" stroke-width="1.00"/>
<circle cx="543.57" cy="346.20" r="4.30" fill="none" stroke="#5050e0" stroke-width="1.00"/>
<circle cx="554.13" cy="343.40" r="4.30" fill="none" stroke="#5050e0" stroke-width="1.00"/>
<circle cx="564.70" cy="340.60" r="4.30" fill="none" stroke="#5050e0" stroke-width="1.00"/>
<circle cx="575.27" cy="337.60" r="4.30" fill="none" stroke="#5050e0" stroke-width="1.00"/>
<circle cx="585.84" cy="335.20" r="4.30" fill="none" stroke="#5050e0" stroke-width="1.00"/>
<circle cx="596.40" cy="332.60" r="4.30" fill="none" stroke="#5050e0" stroke-width="1.00"/>
<path d="M427.33 386.95L431.83 393.70L422.83 393.70Z" fill="none" stroke="#5050e0" stroke-width="1.00"/>
<path d="M437.89 376.15L442.39 382.90L433.39 382.90Z" fill="none" stroke="#5050e0" stroke-width="1.00"/>
<path d="M448.46 367.05L452.96 373.80L443.96 373.80Z" fill="none" stroke="#5050e0" stroke-width="1.00"/>
<path d="M459.03 360.15L463.53 366.90L454.53 366.90Z" fill="none" stroke="#5050e0" stroke-width="1.00"/>
<path d="M469.60 354.05L474.10 360.80L465.10 360.80Z" fill="none" stroke="#5050e0" stroke-width="1.00"/>
<path d="M480.16 349.25L484.66 356.00L475.66 356.00Z" fill="none" stroke="#5050e0" stroke-width="1.00"/>
<path d="M490.73 344.75L495.23 351.50L486.23 351.50Z" fill="none" stroke="#5050e0" stroke-width="1.00"/>
<path d="M501.30 341.15L505.80 347.90L496.80 347.90Z" fill="none" stroke="#5050e0" stroke-width="1.00"/>
<path d="M511.87 337.65L516.37 344.40L507.37 344.40Z" fill="none" stroke="#5050e0" stroke-width="1.00"/>
<path d="M522.43 333.95L526.93 340.70L517.93 340.70Z" fill="none" stroke="#5050e0" stroke-width="1.00"/>
<path d="M533.00 331.15L537.50 337.90L528.50 337.90Z" fill="none" stroke="#5050e0" stroke-width="1.00"/>
<path d="M543.57 328.15L548.07 334.90L539.07 334.90Z" fill="none" stroke="#5050e0" stroke-width="1.00"/>
<path d="M554.13 325.95L558.63 332.70L549.63 332.70Z" fill="none" stroke="#5050e0" stroke-width="1.00"/>
<path d="M564.70 323.95L569.20 330.70L560.20 330.70Z" fill="none" stroke="#5050e0" stroke-width="1.00"/>
<path d="M575.27 321.95L579.77 328.70L570.77 328.70Z" fill="none" stroke="#5050e0" stroke-width="1.00"/>
<path d="M585.84 319.45L590.34 326.20L581.34 326.20Z" fill="none" stroke="#5050e0" stroke-width="1.00"/>
<path d="M596.40 316.95L600.90 323.70L591.90 323.70Z" fill="none" stroke="#5050e0" stroke-width="1.00"/>
<path d="M427.33 368.42L431.53 374.72L423.13 374.72Z" fill="#0000e0"/>
<path d="M437.89 363.12L442.09 369.42L433.69 369.42Z" fill="#0000e0"/>
<path d="M448.46 356.42L452.66 362.72L444.26 362.72Z" fill="#0000e0"/>
<path d="M459.03 351.12L463.23 357.42L454.83 357.42Z" fill="#0000e0"/>
<path d="M469.60 346.42L473.80 352.72L465.40 352.72Z" fill="#0000e0"/>
<path d="M480.16 342.12L484.36 348.42L475.96 348.42Z" fill="#0000e0"/>
<path d="M490.73 338.62L494.93 344.92L486.53 344.92Z" fill="#0000e0"/>
<path d="M501.30 335.32L505.50 341.62L497.10 341.62Z" fill="#0000e0"/>
<path d="M511.87 333.22L516.07 339.52L507.67 339.52Z" fill="#0000e0"/>
<path d="M522.43 331.02L526.63 337.32L518.23 337.32Z" fill="#0000e0"/>
<path d="M533.00 328.42L537.20 334.72L528.80 334.72Z" fill="#0000e0"/>
<path d="M543.57 326.72L547.77 333.02L539.37 333.02Z" fill="#0000e0"/>
<path d="M554.13 325.02L558.34 331.32L549.93 331.32Z" fill="#0000e0"/>
<path d="M564.70 322.82L568.90 329.12L560.50 329.12Z" fill="#0000e0"/>
<path d="M575.27 320.72L579.47 327.02L571.07 327.02Z" fill="#0000e0"/>
<path d="M585.84 318.12L590.04 324.42L581.64 324.42Z" fill="#0000e0"/>
<path d="M596.40 315.92L600.61 322.22L592.20 322.22Z" fill="#0000e0"/>
<path d="M406.00 387.70 L409.32 385.05 L412.64 382.49 L415.97 380.01 L419.29 377.62 L422.61 375.30 L425.93 373.07 L429.25 370.92 L432.58 368.85 L435.90 366.85 L439.22 364.92 L442.54 363.06 L445.86 361.28 L449.19 359.56 L452.51 357.90 L455.83 356.31 L459.15 354.77 L462.47 353.30 L465.80 351.88 L469.12 350.52 L472.44 349.21 L475.76 347.96 L479.08 346.75 L482.41 345.59 L485.73 344.47 L489.05 343.40 L492.37 342.37 L495.69 341.38 L499.02 340.42 L502.34 339.50 L505.66 338.62 L508.98 337.76 L512.31 336.94 L515.63 336.14 L518.95 335.37 L522.27 334.62 L525.59 333.90 L528.92 333.19 L532.24 332.50 L535.56 331.83 L538.88 331.17 L542.20 330.52 L545.53 329.88 L548.85 329.25 L552.17 328.63 L555.49 328.01 L558.81 327.39 L562.14 326.78 L565.46 326.16 L568.78 325.54 L572.10 324.91 L575.42 324.27 L578.75 323.63 L582.07 322.97 L585.39 322.30 L588.71 321.61 L592.03 320.91 L595.36 320.18 L598.68 319.44 L602.00 318.67 M406.00 387.72 L409.32 386.63 L412.64 385.50 L415.97 384.32 L419.29 383.10 L422.61 381.84 L425.93 380.54 L429.25 379.21 L432.58 377.84 L435.90 376.45 L439.22 375.03 L442.54 373.59 L445.86 372.12 L449.19 370.64 L452.51 369.14 L455.83 367.62 L459.15 366.09 L462.47 364.56 L465.80 363.01 L469.12 361.46 L472.44 359.91 L475.76 358.36 L479.08 356.82 L482.41 355.28 L485.73 353.74 L489.05 352.22 L492.37 350.71 L495.69 349.21 L499.02 347.74 L502.34 346.28 L505.66 344.85 L508.98 343.44 L512.31 342.06 L515.63 340.71 L518.95 339.39 L522.27 338.11 L525.59 336.87 L528.92 335.66 L532.24 334.50 L535.56 333.38 L538.88 332.32 L542.20 331.30 L545.53 330.33 L548.85 329.42 L552.17 328.57 L555.49 327.78 L558.81 327.05 L562.14 326.39 L565.46 325.79 L568.78 325.26 L572.10 324.81 L575.42 324.43 L578.75 324.13 L582.07 323.91 L585.39 323.77 L588.71 323.71 L592.03 323.75 L595.36 323.87 L598.68 324.09 L602.00 324.40 M406.00 387.70 L409.32 386.75 L412.64 385.79 L415.97 384.82 L419.29 383.84 L422.61 382.86 L425.93 381.87 L429.25 380.87 L432.58 379.86 L435.90 378.85 L439.22 377.84 L442.54 376.82 L445.86 375.79 L449.19 374.76 L452.51 373.73 L455.83 372.70 L459.15 371.66 L462.47 370.62 L465.80 369.58 L469.12 368.54 L472.44 367.50 L475.76 366.46 L479.08 365.42 L482.41 364.38 L485.73 363.34 L489.05 362.30 L492.37 361.27 L495.69 360.24 L499.02 359.21 L502.34 358.19 L505.66 357.17 L508.98 356.16 L512.31 355.15 L515.63 354.14 L518.95 353.15 L522.27 352.16 L525.59 351.18 L528.92 350.20 L532.24 349.24 L535.56 348.28 L538.88 347.33 L542.20 346.39 L545.53 345.47 L548.85 344.55 L552.17 343.64 L555.49 342.75 L558.81 341.87 L562.14 341.00 L565.46 340.14 L568.78 339.30 L572.10 338.47 L575.42 337.65 L578.75 336.86 L582.07 336.07 L585.39 335.30 L588.71 334.55 L592.03 333.82 L595.36 333.10 L598.68 332.40 L602.00 331.72 M406.00 387.70 L409.32 388.71 L412.64 389.72 L415.97 390.72 L419.29 391.72 L422.61 392.70 L425.93 393.68 L429.25 394.66 L432.58 395.63 L435.90 396.60 L439.22 397.56 L442.54 398.51 L445.86 399.46 L449.19 400.41 L452.51 401.35 L455.83 402.29 L459.15 403.23 L462.47 404.17 L465.80 405.10 L469.12 406.03 L472.44 406.96 L475.76 407.88 L479.08 408.81 L482.41 409.73 L485.73 410.65 L489.05 411.57 L492.37 412.49 L495.69 413.41 L499.02 414.34 L502.34 415.26 L505.66 416.18 L508.98 417.10 L512.31 418.03 L515.63 418.95 L518.95 419.88 L522.27 420.81 L525.59 421.75 L528.92 422.68 L532.24 423.62 L535.56 424.56 L538.88 425.51 L542.20 426.46 L545.53 427.41 L548.85 428.37 L552.17 429.33 L555.49 430.30 L558.81 431.27 L562.14 432.25 L565.46 433.23 L568.78 434.22 L572.10 435.22 L575.42 436.22 L578.75 437.23 L582.07 438.25 L585.39 439.27 L588.71 440.30 L592.03 441.34 L595.36 442.39 L598.68 443.45 L602.00 444.52 M406.00 387.70 L409.32 389.17 L412.64 390.63 L415.97 392.07 L419.29 393.50 L422.61 394.91 L425.93 396.31 L429.25 397.70 L432.58 399.08 L435.90 400.45 L439.22 401.81 L442.54 403.16 L445.86 404.50 L449.19 405.84 L452.51 407.17 L455.83 408.49 L459.15 409.81 L462.47 411.12 L465.80 412.43 L469.12 413.74 L472.44 415.04 L475.76 416.35 L479.08 417.65 L482.41 418.95 L485.73 420.25 L489.05 421.55 L492.37 422.86 L495.69 424.17 L499.02 425.48 L502.34 426.79 L505.66 428.11 L508.98 429.44 L512.31 430.77 L515.63 432.11 L518.95 433.46 L522.27 434.81 L525.59 436.18 L528.92 437.55 L532.24 438.93 L535.56 440.33 L538.88 441.74 L542.20 443.16 L545.53 444.59 L548.85 446.04 L552.17 447.50 L555.49 448.98 L558.81 450.48 L562.14 451.99 L565.46 453.52 L568.78 455.06 L572.10 456.63 L575.42 458.22 L578.75 459.82 L582.07 461.45 L585.39 463.10 L588.71 464.78 L592.03 466.47 L595.36 468.19 L598.68 469.94 L602.00 471.71 M406.00 387.70 L409.32 391.11 L412.64 394.40 L415.97 397.57 L419.29 400.62 L422.61 403.56 L425.93 406.39 L429.25 409.10 L432.58 411.71 L435.90 414.21 L439.22 416.62 L442.54 418.92 L445.86 421.13 L449.19 423.25 L452.51 425.28 L455.83 427.23 L459.15 429.09 L462.47 430.87 L465.80 432.57 L469.12 434.20 L472.44 435.75 L475.76 437.24 L479.08 438.66 L482.41 440.02 L485.73 441.32 L489.05 442.57 L492.37 443.76 L495.69 444.89 L499.02 445.98 L502.34 447.03 L505.66 448.03 L508.98 448.99 L512.31 449.91 L515.63 450.80 L518.95 451.67 L522.27 452.50 L525.59 453.31 L528.92 454.09 L532.24 454.86 L535.56 455.61 L538.88 456.35 L542.20 457.07 L545.53 457.79 L548.85 458.51 L552.17 459.22 L555.49 459.94 L558.81 460.66 L562.14 461.38 L565.46 462.12 L568.78 462.87 L572.10 463.63 L575.42 464.42 L578.75 465.22 L582.07 466.05 L585.39 466.91 L588.71 467.80 L592.03 468.72 L595.36 469.68 L598.68 470.67 L602.00 471.71 M406.00 387.72 L409.32 393.17 L412.64 398.30 L415.97 403.14 L419.29 407.67 L422.61 411.91 L425.93 415.88 L429.25 419.57 L432.58 423.00 L435.90 426.17 L439.22 429.10 L442.54 431.79 L445.86 434.25 L449.19 436.50 L452.51 438.53 L455.83 440.35 L459.15 441.99 L462.47 443.43 L465.80 444.70 L469.12 445.80 L472.44 446.74 L475.76 447.53 L479.08 448.18 L482.41 448.69 L485.73 449.08 L489.05 449.35 L492.37 449.51 L495.69 449.57 L499.02 449.54 L502.34 449.43 L505.66 449.24 L508.98 448.99 L512.31 448.68 L515.63 448.32 L518.95 447.92 L522.27 447.49 L525.59 447.04 L528.92 446.57 L532.24 446.10 L535.56 445.63 L538.88 445.18 L542.20 444.74 L545.53 444.33 L548.85 443.97 L552.17 443.64 L555.49 443.37 L558.81 443.17 L562.14 443.04 L565.46 442.98 L568.78 443.02 L572.10 443.15 L575.42 443.39 L578.75 443.75 L582.07 444.23 L585.39 444.84 L588.71 445.59 L592.03 446.49 L595.36 447.55 L598.68 448.78 L602.00 450.18 M406.00 387.70 L409.32 389.95 L412.64 392.21 L415.97 394.50 L419.29 396.79 L422.61 399.11 L425.93 401.43 L429.25 403.76 L432.58 406.10 L435.90 408.45 L439.22 410.80 L442.54 413.16 L445.86 415.52 L449.19 417.89 L452.51 420.25 L455.83 422.61 L459.15 424.97 L462.47 427.32 L465.80 429.67 L469.12 432.01 L472.44 434.34 L475.76 436.66 L479.08 438.97 L482.41 441.27 L485.73 443.55 L489.05 445.81 L492.37 448.06 L495.69 450.29 L499.02 452.50 L502.34 454.69 L505.66 456.85 L508.98 458.99 L512.31 461.11 L515.63 463.19 L518.95 465.25 L522.27 467.27 L525.59 469.27 L528.92 471.23 L532.24 473.15 L535.56 475.04 L538.88 476.89 L542.20 478.71 L545.53 480.48 L548.85 482.21 L552.17 483.89 L555.49 485.53 L558.81 487.13 L562.14 488.67 L565.46 490.17 L568.78 491.62 L572.10 493.01 L575.42 494.35 L578.75 495.64 L582.07 496.86 L585.39 498.03 L588.71 499.14 L592.03 500.19 L595.36 501.18 L598.68 502.10 L602.00 502.96 M406.00 387.70 L409.32 392.29 L412.64 396.76 L415.97 401.10 L419.29 405.33 L422.61 409.44 L425.93 413.44 L429.25 417.33 L432.58 421.11 L435.90 424.78 L439.22 428.35 L442.54 431.81 L445.86 435.18 L449.19 438.44 L452.51 441.61 L455.83 444.69 L459.15 447.67 L462.47 450.57 L465.80 453.37 L469.12 456.10 L472.44 458.74 L475.76 461.30 L479.08 463.78 L482.41 466.18 L485.73 468.51 L489.05 470.77 L492.37 472.96 L495.69 475.08 L499.02 477.14 L502.34 479.13 L505.66 481.07 L508.98 482.94 L512.31 484.76 L515.63 486.52 L518.95 488.24 L522.27 489.90 L525.59 491.51 L528.92 493.08 L532.24 494.61 L535.56 496.10 L538.88 497.55 L542.20 498.96 L545.53 500.33 L548.85 501.68 L552.17 502.99 L555.49 504.28 L558.81 505.54 L562.14 506.78 L565.46 508.00 L568.78 509.20 L572.10 510.38 L575.42 511.55 L578.75 512.71 L582.07 513.85 L585.39 514.99 L588.71 516.12 L592.03 517.25 L595.36 518.38 L598.68 519.51 L602.00 520.64" stroke="#111" stroke-width="1.2" fill="none" stroke-dasharray="7 4"/>
<text x="652.0" y="335.80" font-family='"Liberation Sans", sans-serif' font-size="16" text-anchor="end"><tspan font-family='"Liberation Serif", serif' font-size="17">ω</tspan>=9.5</text>
<path d="M660.30 330.50h8.60M664.60 326.20v8.60" stroke="#4a3a3a" stroke-width="1.10" fill="none"/>
<text x="652.0" y="356.60" font-family='"Liberation Sans", sans-serif' font-size="16" text-anchor="end"><tspan font-family='"Liberation Serif", serif' font-size="17">ω</tspan>=8.5</text>
<path d="M660.30 347.00l8.60 8.60M660.30 355.60l8.60 -8.60" stroke="#621e1e" stroke-width="1.10" fill="none"/>
<text x="652.0" y="377.40" font-family='"Liberation Sans", sans-serif' font-size="16" text-anchor="end"><tspan font-family='"Liberation Serif", serif' font-size="17">ω</tspan>=7.5</text>
<path d="M660.00 372.10h9.20M664.60 367.50v9.20M660.46 367.96l8.28 8.28M660.46 376.24l8.28 -8.28" stroke="#c82030" stroke-width="1.10" fill="none"/>
<text x="652.0" y="398.20" font-family='"Liberation Sans", sans-serif' font-size="16" text-anchor="end"><tspan font-family='"Liberation Serif", serif' font-size="17">ω</tspan>=6.5</text>
<rect x="660.30" y="388.60" width="8.60" height="8.60" fill="none" stroke="#e04848" stroke-width="1.10"/>
<text x="652.0" y="419.00" font-family='"Liberation Sans", sans-serif' font-size="16" text-anchor="end"><tspan font-family='"Liberation Serif", serif' font-size="17">ω</tspan>=5.5</text>
<circle cx="664.60" cy="413.70" r="4.30" fill="#f03030"/>
<text x="652.0" y="439.80" font-family='"Liberation Sans", sans-serif' font-size="16" text-anchor="end"><tspan font-family='"Liberation Serif", serif' font-size="17">ω</tspan>=4.5</text>
<rect x="660.40" y="430.30" width="8.40" height="8.40" fill="#f06060"/>
<text x="652.0" y="460.60" font-family='"Liberation Sans", sans-serif' font-size="16" text-anchor="end"><tspan font-family='"Liberation Serif", serif' font-size="17">ω</tspan>=3.5</text>
<circle cx="664.60" cy="455.30" r="4.30" fill="none" stroke="#5050e0" stroke-width="1.00"/>
<text x="652.0" y="481.40" font-family='"Liberation Sans", sans-serif' font-size="16" text-anchor="end"><tspan font-family='"Liberation Serif", serif' font-size="17">ω</tspan>=2.5</text>
<path d="M664.60 472.14L669.00 478.74L660.20 478.74Z" fill="none" stroke="#5050e0" stroke-width="1.00"/>
<text x="652.0" y="502.20" font-family='"Liberation Sans", sans-serif' font-size="16" text-anchor="end"><tspan font-family='"Liberation Serif", serif' font-size="17">ω</tspan>=1.5</text>
<path d="M664.60 493.12L668.80 499.42L660.40 499.42Z" fill="#0000e0"/>
</svg></body></html>
